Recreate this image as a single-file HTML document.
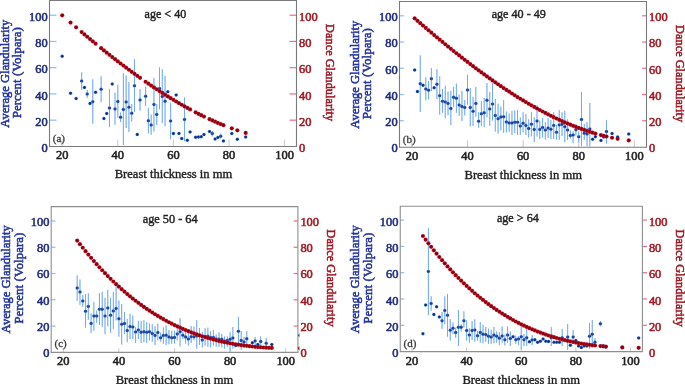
<!DOCTYPE html><html><head><meta charset="utf-8"><style>html,body{margin:0;padding:0;background:#fff;width:685px;height:384px;overflow:hidden}svg{display:block;will-change:transform}text{font-family:"Liberation Serif",serif}</style></head><body>
<svg width="685" height="384" viewBox="0 0 685 384">
<defs><radialGradient id="rg"><stop offset="0" stop-color="#6e0008"/><stop offset="0.55" stop-color="#9a000f"/><stop offset="1" stop-color="#c8142c"/></radialGradient><radialGradient id="bg"><stop offset="0" stop-color="#0a2266"/><stop offset="0.5" stop-color="#12388e"/><stop offset="1" stop-color="#3f74c8"/></radialGradient></defs>
<rect width="685" height="384" fill="#fff"/>
<line x1="62.20" y1="139.50" x2="62.20" y2="146.50" stroke="#c8c8c8" stroke-width="1"/>
<text x="62.20" y="158.90" font-size="12" fill="#222" stroke="#222" stroke-width="0.55" text-anchor="middle" textLength="12.40" lengthAdjust="spacingAndGlyphs">20</text>
<line x1="117.80" y1="139.50" x2="117.80" y2="146.50" stroke="#c8c8c8" stroke-width="1"/>
<text x="117.80" y="158.90" font-size="12" fill="#222" stroke="#222" stroke-width="0.55" text-anchor="middle" textLength="12.40" lengthAdjust="spacingAndGlyphs">40</text>
<line x1="173.40" y1="139.50" x2="173.40" y2="146.50" stroke="#c8c8c8" stroke-width="1"/>
<text x="173.40" y="158.90" font-size="12" fill="#222" stroke="#222" stroke-width="0.55" text-anchor="middle" textLength="12.40" lengthAdjust="spacingAndGlyphs">60</text>
<line x1="229.00" y1="139.50" x2="229.00" y2="146.50" stroke="#c8c8c8" stroke-width="1"/>
<text x="229.00" y="158.90" font-size="12" fill="#222" stroke="#222" stroke-width="0.55" text-anchor="middle" textLength="12.40" lengthAdjust="spacingAndGlyphs">80</text>
<line x1="284.60" y1="139.50" x2="284.60" y2="146.50" stroke="#c8c8c8" stroke-width="1"/>
<text x="284.60" y="158.90" font-size="12" fill="#222" stroke="#222" stroke-width="0.55" text-anchor="middle" textLength="18.60" lengthAdjust="spacingAndGlyphs">100</text>
<text x="47.70" y="152.00" font-size="12" fill="#1f2d78" stroke="#1f2d78" stroke-width="0.55" text-anchor="end" textLength="6.20" lengthAdjust="spacingAndGlyphs">0</text>
<text x="299.00" y="152.00" font-size="12" fill="#a01a24" stroke="#a01a24" stroke-width="0.55" textLength="6.20" lengthAdjust="spacingAndGlyphs">0</text>
<line x1="49.50" y1="120.16" x2="56.50" y2="120.16" stroke="#8cbcf0" stroke-width="1.2"/>
<text x="47.70" y="125.76" font-size="12" fill="#1f2d78" stroke="#1f2d78" stroke-width="0.55" text-anchor="end" textLength="12.40" lengthAdjust="spacingAndGlyphs">20</text>
<line x1="289.50" y1="120.16" x2="296.50" y2="120.16" stroke="#f06a8a" stroke-width="1.2"/>
<text x="299.00" y="125.76" font-size="12" fill="#a01a24" stroke="#a01a24" stroke-width="0.55" textLength="12.40" lengthAdjust="spacingAndGlyphs">20</text>
<line x1="49.50" y1="93.92" x2="56.50" y2="93.92" stroke="#8cbcf0" stroke-width="1.2"/>
<text x="47.70" y="99.52" font-size="12" fill="#1f2d78" stroke="#1f2d78" stroke-width="0.55" text-anchor="end" textLength="12.40" lengthAdjust="spacingAndGlyphs">40</text>
<line x1="289.50" y1="93.92" x2="296.50" y2="93.92" stroke="#f06a8a" stroke-width="1.2"/>
<text x="299.00" y="99.52" font-size="12" fill="#a01a24" stroke="#a01a24" stroke-width="0.55" textLength="12.40" lengthAdjust="spacingAndGlyphs">40</text>
<line x1="49.50" y1="67.68" x2="56.50" y2="67.68" stroke="#8cbcf0" stroke-width="1.2"/>
<text x="47.70" y="73.28" font-size="12" fill="#1f2d78" stroke="#1f2d78" stroke-width="0.55" text-anchor="end" textLength="12.40" lengthAdjust="spacingAndGlyphs">60</text>
<line x1="289.50" y1="67.68" x2="296.50" y2="67.68" stroke="#f06a8a" stroke-width="1.2"/>
<text x="299.00" y="73.28" font-size="12" fill="#a01a24" stroke="#a01a24" stroke-width="0.55" textLength="12.40" lengthAdjust="spacingAndGlyphs">60</text>
<line x1="49.50" y1="41.44" x2="56.50" y2="41.44" stroke="#8cbcf0" stroke-width="1.2"/>
<text x="47.70" y="47.04" font-size="12" fill="#1f2d78" stroke="#1f2d78" stroke-width="0.55" text-anchor="end" textLength="12.40" lengthAdjust="spacingAndGlyphs">80</text>
<line x1="289.50" y1="41.44" x2="296.50" y2="41.44" stroke="#f06a8a" stroke-width="1.2"/>
<text x="299.00" y="47.04" font-size="12" fill="#a01a24" stroke="#a01a24" stroke-width="0.55" textLength="12.40" lengthAdjust="spacingAndGlyphs">80</text>
<line x1="49.50" y1="15.20" x2="56.50" y2="15.20" stroke="#8cbcf0" stroke-width="1.2"/>
<text x="47.70" y="20.80" font-size="12" fill="#1f2d78" stroke="#1f2d78" stroke-width="0.55" text-anchor="end" textLength="18.60" lengthAdjust="spacingAndGlyphs">100</text>
<line x1="289.50" y1="15.20" x2="296.50" y2="15.20" stroke="#f06a8a" stroke-width="1.2"/>
<text x="299.00" y="20.80" font-size="12" fill="#a01a24" stroke="#a01a24" stroke-width="0.55" textLength="18.60" lengthAdjust="spacingAndGlyphs">100</text>
<g stroke="#70aaf4" stroke-width="1"><line x1="81.66" y1="72.40" x2="81.66" y2="90.00"/><line x1="87.22" y1="90.00" x2="87.22" y2="97.80"/><line x1="92.78" y1="79.30" x2="92.78" y2="123.70"/><line x1="101.12" y1="76.30" x2="101.12" y2="102.30"/><line x1="109.46" y1="88.90" x2="109.46" y2="127.10"/><line x1="115.02" y1="92.60" x2="115.02" y2="124.80"/><line x1="117.80" y1="84.80" x2="117.80" y2="117.60"/><line x1="120.58" y1="112.40" x2="120.58" y2="122.10"/><line x1="123.36" y1="73.00" x2="123.36" y2="145.00"/><line x1="126.14" y1="75.40" x2="126.14" y2="128.00"/><line x1="128.92" y1="82.00" x2="128.92" y2="132.00"/><line x1="131.70" y1="104.00" x2="131.70" y2="121.60"/><line x1="134.48" y1="59.10" x2="134.48" y2="112.00"/><line x1="140.04" y1="89.00" x2="140.04" y2="110.60"/><line x1="145.60" y1="86.50" x2="145.60" y2="106.00"/><line x1="148.38" y1="108.00" x2="148.38" y2="133.40"/><line x1="151.16" y1="114.50" x2="151.16" y2="134.70"/><line x1="153.94" y1="77.80" x2="153.94" y2="131.50"/><line x1="156.72" y1="104.00" x2="156.72" y2="125.00"/><line x1="159.50" y1="67.30" x2="159.50" y2="109.30"/><line x1="162.28" y1="69.20" x2="162.28" y2="123.00"/><line x1="165.06" y1="75.90" x2="165.06" y2="126.30"/><line x1="170.62" y1="102.50" x2="170.62" y2="139.30"/><line x1="184.52" y1="97.30" x2="184.52" y2="141.30"/><line x1="212.32" y1="131.00" x2="212.32" y2="136.50"/><line x1="220.66" y1="133.50" x2="220.66" y2="138.50"/></g>
<circle cx="62.20" cy="56.20" r="1.75" fill="url(#bg)"/>
<circle cx="70.54" cy="93.20" r="1.75" fill="url(#bg)"/>
<circle cx="76.10" cy="98.60" r="1.75" fill="url(#bg)"/>
<circle cx="81.66" cy="81.10" r="1.75" fill="url(#bg)"/>
<circle cx="84.44" cy="87.40" r="1.75" fill="url(#bg)"/>
<circle cx="87.22" cy="94.00" r="1.75" fill="url(#bg)"/>
<circle cx="90.00" cy="103.40" r="1.75" fill="url(#bg)"/>
<circle cx="92.78" cy="101.70" r="1.75" fill="url(#bg)"/>
<circle cx="95.56" cy="92.30" r="1.75" fill="url(#bg)"/>
<circle cx="101.12" cy="89.30" r="1.75" fill="url(#bg)"/>
<circle cx="103.90" cy="118.60" r="1.75" fill="url(#bg)"/>
<circle cx="106.68" cy="113.50" r="1.75" fill="url(#bg)"/>
<circle cx="109.46" cy="108.10" r="1.75" fill="url(#bg)"/>
<circle cx="112.24" cy="84.00" r="1.75" fill="url(#bg)"/>
<circle cx="115.02" cy="108.90" r="1.75" fill="url(#bg)"/>
<circle cx="117.80" cy="101.60" r="1.75" fill="url(#bg)"/>
<circle cx="120.58" cy="117.30" r="1.75" fill="url(#bg)"/>
<circle cx="123.36" cy="109.40" r="1.75" fill="url(#bg)"/>
<circle cx="126.14" cy="102.00" r="1.75" fill="url(#bg)"/>
<circle cx="128.92" cy="107.20" r="1.75" fill="url(#bg)"/>
<circle cx="131.70" cy="113.20" r="1.75" fill="url(#bg)"/>
<circle cx="134.48" cy="85.70" r="1.75" fill="url(#bg)"/>
<circle cx="137.26" cy="134.50" r="1.75" fill="url(#bg)"/>
<circle cx="140.04" cy="100.00" r="1.75" fill="url(#bg)"/>
<circle cx="145.60" cy="96.30" r="1.75" fill="url(#bg)"/>
<circle cx="148.38" cy="120.70" r="1.75" fill="url(#bg)"/>
<circle cx="151.16" cy="125.00" r="1.75" fill="url(#bg)"/>
<circle cx="153.94" cy="104.50" r="1.75" fill="url(#bg)"/>
<circle cx="156.72" cy="114.50" r="1.75" fill="url(#bg)"/>
<circle cx="159.50" cy="88.60" r="1.75" fill="url(#bg)"/>
<circle cx="162.28" cy="96.50" r="1.75" fill="url(#bg)"/>
<circle cx="165.06" cy="101.20" r="1.75" fill="url(#bg)"/>
<circle cx="167.84" cy="91.70" r="1.75" fill="url(#bg)"/>
<circle cx="170.62" cy="121.00" r="1.75" fill="url(#bg)"/>
<circle cx="173.40" cy="133.40" r="1.75" fill="url(#bg)"/>
<circle cx="176.18" cy="95.00" r="1.75" fill="url(#bg)"/>
<circle cx="178.96" cy="133.40" r="1.75" fill="url(#bg)"/>
<circle cx="181.74" cy="138.60" r="1.75" fill="url(#bg)"/>
<circle cx="184.52" cy="119.40" r="1.75" fill="url(#bg)"/>
<circle cx="187.30" cy="140.20" r="1.75" fill="url(#bg)"/>
<circle cx="190.08" cy="131.90" r="1.75" fill="url(#bg)"/>
<circle cx="195.64" cy="137.30" r="1.75" fill="url(#bg)"/>
<circle cx="198.42" cy="137.00" r="1.75" fill="url(#bg)"/>
<circle cx="201.20" cy="136.70" r="1.75" fill="url(#bg)"/>
<circle cx="203.98" cy="134.60" r="1.75" fill="url(#bg)"/>
<circle cx="209.54" cy="131.60" r="1.75" fill="url(#bg)"/>
<circle cx="212.32" cy="133.60" r="1.75" fill="url(#bg)"/>
<circle cx="215.10" cy="139.10" r="1.75" fill="url(#bg)"/>
<circle cx="217.88" cy="137.40" r="1.75" fill="url(#bg)"/>
<circle cx="220.66" cy="136.20" r="1.75" fill="url(#bg)"/>
<circle cx="223.44" cy="140.90" r="1.75" fill="url(#bg)"/>
<circle cx="231.78" cy="133.60" r="1.75" fill="url(#bg)"/>
<circle cx="237.34" cy="139.30" r="1.75" fill="url(#bg)"/>
<circle cx="245.68" cy="136.90" r="1.75" fill="url(#bg)"/>
<g stroke="#70aaf4" stroke-width="1" opacity="0.3"><line x1="81.66" y1="72.40" x2="81.66" y2="90.00"/><line x1="87.22" y1="90.00" x2="87.22" y2="97.80"/><line x1="92.78" y1="79.30" x2="92.78" y2="123.70"/><line x1="101.12" y1="76.30" x2="101.12" y2="102.30"/><line x1="109.46" y1="88.90" x2="109.46" y2="127.10"/><line x1="115.02" y1="92.60" x2="115.02" y2="124.80"/><line x1="117.80" y1="84.80" x2="117.80" y2="117.60"/><line x1="120.58" y1="112.40" x2="120.58" y2="122.10"/><line x1="123.36" y1="73.00" x2="123.36" y2="145.00"/><line x1="126.14" y1="75.40" x2="126.14" y2="128.00"/><line x1="128.92" y1="82.00" x2="128.92" y2="132.00"/><line x1="131.70" y1="104.00" x2="131.70" y2="121.60"/><line x1="134.48" y1="59.10" x2="134.48" y2="112.00"/><line x1="140.04" y1="89.00" x2="140.04" y2="110.60"/><line x1="145.60" y1="86.50" x2="145.60" y2="106.00"/><line x1="148.38" y1="108.00" x2="148.38" y2="133.40"/><line x1="151.16" y1="114.50" x2="151.16" y2="134.70"/><line x1="153.94" y1="77.80" x2="153.94" y2="131.50"/><line x1="156.72" y1="104.00" x2="156.72" y2="125.00"/><line x1="159.50" y1="67.30" x2="159.50" y2="109.30"/><line x1="162.28" y1="69.20" x2="162.28" y2="123.00"/><line x1="165.06" y1="75.90" x2="165.06" y2="126.30"/><line x1="170.62" y1="102.50" x2="170.62" y2="139.30"/><line x1="184.52" y1="97.30" x2="184.52" y2="141.30"/><line x1="212.32" y1="131.00" x2="212.32" y2="136.50"/><line x1="220.66" y1="133.50" x2="220.66" y2="138.50"/></g>
<circle cx="62.20" cy="15.35" r="2.1" fill="url(#rg)"/>
<circle cx="70.54" cy="22.59" r="2.1" fill="url(#rg)"/>
<circle cx="76.10" cy="27.36" r="2.1" fill="url(#rg)"/>
<circle cx="81.66" cy="32.09" r="2.1" fill="url(#rg)"/>
<circle cx="84.44" cy="34.43" r="2.1" fill="url(#rg)"/>
<circle cx="87.22" cy="36.76" r="2.1" fill="url(#rg)"/>
<circle cx="90.00" cy="39.07" r="2.1" fill="url(#rg)"/>
<circle cx="92.78" cy="41.37" r="2.1" fill="url(#rg)"/>
<circle cx="95.56" cy="43.66" r="2.1" fill="url(#rg)"/>
<circle cx="101.12" cy="48.18" r="2.1" fill="url(#rg)"/>
<circle cx="103.90" cy="50.42" r="2.1" fill="url(#rg)"/>
<circle cx="106.68" cy="52.64" r="2.1" fill="url(#rg)"/>
<circle cx="109.46" cy="54.85" r="2.1" fill="url(#rg)"/>
<circle cx="112.24" cy="57.04" r="2.1" fill="url(#rg)"/>
<circle cx="115.02" cy="59.20" r="2.1" fill="url(#rg)"/>
<circle cx="117.80" cy="61.35" r="2.1" fill="url(#rg)"/>
<circle cx="120.58" cy="63.49" r="2.1" fill="url(#rg)"/>
<circle cx="123.36" cy="65.60" r="2.1" fill="url(#rg)"/>
<circle cx="126.14" cy="67.69" r="2.1" fill="url(#rg)"/>
<circle cx="128.92" cy="69.76" r="2.1" fill="url(#rg)"/>
<circle cx="131.70" cy="71.82" r="2.1" fill="url(#rg)"/>
<circle cx="134.48" cy="73.85" r="2.1" fill="url(#rg)"/>
<circle cx="137.26" cy="75.86" r="2.1" fill="url(#rg)"/>
<circle cx="140.04" cy="77.85" r="2.1" fill="url(#rg)"/>
<circle cx="145.60" cy="81.75" r="2.1" fill="url(#rg)"/>
<circle cx="148.38" cy="83.67" r="2.1" fill="url(#rg)"/>
<circle cx="151.16" cy="85.57" r="2.1" fill="url(#rg)"/>
<circle cx="153.94" cy="87.44" r="2.1" fill="url(#rg)"/>
<circle cx="156.72" cy="89.29" r="2.1" fill="url(#rg)"/>
<circle cx="159.50" cy="91.11" r="2.1" fill="url(#rg)"/>
<circle cx="162.28" cy="92.91" r="2.1" fill="url(#rg)"/>
<circle cx="165.06" cy="94.68" r="2.1" fill="url(#rg)"/>
<circle cx="167.84" cy="96.43" r="2.1" fill="url(#rg)"/>
<circle cx="170.62" cy="98.15" r="2.1" fill="url(#rg)"/>
<circle cx="173.40" cy="99.84" r="2.1" fill="url(#rg)"/>
<circle cx="176.18" cy="101.51" r="2.1" fill="url(#rg)"/>
<circle cx="178.96" cy="103.14" r="2.1" fill="url(#rg)"/>
<circle cx="181.74" cy="104.75" r="2.1" fill="url(#rg)"/>
<circle cx="184.52" cy="106.33" r="2.1" fill="url(#rg)"/>
<circle cx="187.30" cy="107.88" r="2.1" fill="url(#rg)"/>
<circle cx="190.08" cy="109.40" r="2.1" fill="url(#rg)"/>
<circle cx="195.64" cy="112.35" r="2.1" fill="url(#rg)"/>
<circle cx="198.42" cy="113.78" r="2.1" fill="url(#rg)"/>
<circle cx="201.20" cy="115.18" r="2.1" fill="url(#rg)"/>
<circle cx="203.98" cy="116.55" r="2.1" fill="url(#rg)"/>
<circle cx="209.54" cy="119.18" r="2.1" fill="url(#rg)"/>
<circle cx="212.32" cy="120.45" r="2.1" fill="url(#rg)"/>
<circle cx="215.10" cy="121.69" r="2.1" fill="url(#rg)"/>
<circle cx="217.88" cy="122.89" r="2.1" fill="url(#rg)"/>
<circle cx="220.66" cy="124.06" r="2.1" fill="url(#rg)"/>
<circle cx="223.44" cy="125.19" r="2.1" fill="url(#rg)"/>
<circle cx="231.78" cy="128.37" r="2.1" fill="url(#rg)"/>
<circle cx="237.34" cy="130.31" r="2.1" fill="url(#rg)"/>
<circle cx="245.68" cy="132.94" r="2.1" fill="url(#rg)"/>
<path d="M49.5,0.5H296.5V146.5H49.5Z" fill="none" stroke="#7a7a7a" stroke-width="1.1"/>
<text x="52.80" y="141.90" font-size="11" fill="#3a3a3a" stroke="#3a3a3a" stroke-width="0.3">(a)</text>
<text x="165.40" y="17.50" font-size="12" fill="#222" stroke="#222" stroke-width="0.4" text-anchor="middle" textLength="41.7" lengthAdjust="spacingAndGlyphs">age &lt; 40</text>
<text x="173.50" y="178.40" font-size="13" fill="#222" stroke="#222" stroke-width="0.4" text-anchor="middle" textLength="117.5" lengthAdjust="spacingAndGlyphs">Breast thickness in mm</text>
<text transform="translate(8.70,73.70) rotate(-90)" font-size="13.5" fill="#2234a2" stroke="#2234a2" stroke-width="0.55" text-anchor="middle" textLength="108" lengthAdjust="spacingAndGlyphs">Average Glandularity</text>
<text transform="translate(21.10,72.70) rotate(-90)" font-size="13.5" fill="#2234a2" stroke="#2234a2" stroke-width="0.55" text-anchor="middle" textLength="91.3" lengthAdjust="spacingAndGlyphs">Percent (Volpara)</text>
<text transform="translate(325.80,72.60) rotate(90)" font-size="12.5" fill="#a01a24" stroke="#a01a24" stroke-width="0.55" text-anchor="middle" textLength="97" lengthAdjust="spacingAndGlyphs">Dance Glandularity</text>
<line x1="411.90" y1="140.30" x2="411.90" y2="147.30" stroke="#c8c8c8" stroke-width="1"/>
<text x="411.90" y="159.80" font-size="12" fill="#222" stroke="#222" stroke-width="0.55" text-anchor="middle" textLength="12.40" lengthAdjust="spacingAndGlyphs">20</text>
<line x1="467.50" y1="140.30" x2="467.50" y2="147.30" stroke="#c8c8c8" stroke-width="1"/>
<text x="467.50" y="159.80" font-size="12" fill="#222" stroke="#222" stroke-width="0.55" text-anchor="middle" textLength="12.40" lengthAdjust="spacingAndGlyphs">40</text>
<line x1="523.10" y1="140.30" x2="523.10" y2="147.30" stroke="#c8c8c8" stroke-width="1"/>
<text x="523.10" y="159.80" font-size="12" fill="#222" stroke="#222" stroke-width="0.55" text-anchor="middle" textLength="12.40" lengthAdjust="spacingAndGlyphs">60</text>
<line x1="578.70" y1="140.30" x2="578.70" y2="147.30" stroke="#c8c8c8" stroke-width="1"/>
<text x="578.70" y="159.80" font-size="12" fill="#222" stroke="#222" stroke-width="0.55" text-anchor="middle" textLength="12.40" lengthAdjust="spacingAndGlyphs">80</text>
<line x1="634.30" y1="140.30" x2="634.30" y2="147.30" stroke="#c8c8c8" stroke-width="1"/>
<text x="634.30" y="159.80" font-size="12" fill="#222" stroke="#222" stroke-width="0.55" text-anchor="middle" textLength="18.60" lengthAdjust="spacingAndGlyphs">100</text>
<text x="397.70" y="152.30" font-size="12" fill="#1f2d78" stroke="#1f2d78" stroke-width="0.55" text-anchor="end" textLength="6.20" lengthAdjust="spacingAndGlyphs">0</text>
<text x="649.00" y="152.30" font-size="12" fill="#a01a24" stroke="#a01a24" stroke-width="0.55" textLength="6.20" lengthAdjust="spacingAndGlyphs">0</text>
<line x1="399.50" y1="120.76" x2="403.80" y2="120.76" stroke="#8cbcf0" stroke-width="1.2"/>
<text x="397.70" y="126.06" font-size="12" fill="#1f2d78" stroke="#1f2d78" stroke-width="0.55" text-anchor="end" textLength="12.40" lengthAdjust="spacingAndGlyphs">20</text>
<line x1="642.20" y1="120.76" x2="646.50" y2="120.76" stroke="#f06a8a" stroke-width="1.2"/>
<text x="649.00" y="126.06" font-size="12" fill="#a01a24" stroke="#a01a24" stroke-width="0.55" textLength="12.40" lengthAdjust="spacingAndGlyphs">20</text>
<line x1="399.50" y1="94.52" x2="403.80" y2="94.52" stroke="#8cbcf0" stroke-width="1.2"/>
<text x="397.70" y="99.82" font-size="12" fill="#1f2d78" stroke="#1f2d78" stroke-width="0.55" text-anchor="end" textLength="12.40" lengthAdjust="spacingAndGlyphs">40</text>
<line x1="642.20" y1="94.52" x2="646.50" y2="94.52" stroke="#f06a8a" stroke-width="1.2"/>
<text x="649.00" y="99.82" font-size="12" fill="#a01a24" stroke="#a01a24" stroke-width="0.55" textLength="12.40" lengthAdjust="spacingAndGlyphs">40</text>
<line x1="399.50" y1="68.28" x2="403.80" y2="68.28" stroke="#8cbcf0" stroke-width="1.2"/>
<text x="397.70" y="73.58" font-size="12" fill="#1f2d78" stroke="#1f2d78" stroke-width="0.55" text-anchor="end" textLength="12.40" lengthAdjust="spacingAndGlyphs">60</text>
<line x1="642.20" y1="68.28" x2="646.50" y2="68.28" stroke="#f06a8a" stroke-width="1.2"/>
<text x="649.00" y="73.58" font-size="12" fill="#a01a24" stroke="#a01a24" stroke-width="0.55" textLength="12.40" lengthAdjust="spacingAndGlyphs">60</text>
<line x1="399.50" y1="42.04" x2="403.80" y2="42.04" stroke="#8cbcf0" stroke-width="1.2"/>
<text x="397.70" y="47.34" font-size="12" fill="#1f2d78" stroke="#1f2d78" stroke-width="0.55" text-anchor="end" textLength="12.40" lengthAdjust="spacingAndGlyphs">80</text>
<line x1="642.20" y1="42.04" x2="646.50" y2="42.04" stroke="#f06a8a" stroke-width="1.2"/>
<text x="649.00" y="47.34" font-size="12" fill="#a01a24" stroke="#a01a24" stroke-width="0.55" textLength="12.40" lengthAdjust="spacingAndGlyphs">80</text>
<line x1="399.50" y1="15.80" x2="403.80" y2="15.80" stroke="#8cbcf0" stroke-width="1.2"/>
<text x="397.70" y="21.10" font-size="12" fill="#1f2d78" stroke="#1f2d78" stroke-width="0.55" text-anchor="end" textLength="18.60" lengthAdjust="spacingAndGlyphs">100</text>
<line x1="642.20" y1="15.80" x2="646.50" y2="15.80" stroke="#f06a8a" stroke-width="1.2"/>
<text x="649.00" y="21.10" font-size="12" fill="#a01a24" stroke="#a01a24" stroke-width="0.55" textLength="18.60" lengthAdjust="spacingAndGlyphs">100</text>
<g stroke="#70aaf4" stroke-width="1"><line x1="420.24" y1="55.30" x2="420.24" y2="112.00"/><line x1="425.80" y1="77.30" x2="425.80" y2="100.20"/><line x1="428.58" y1="81.10" x2="428.58" y2="99.30"/><line x1="431.36" y1="68.20" x2="431.36" y2="91.00"/><line x1="436.92" y1="69.20" x2="436.92" y2="99.20"/><line x1="439.70" y1="76.20" x2="439.70" y2="114.70"/><line x1="442.48" y1="89.10" x2="442.48" y2="112.90"/><line x1="445.26" y1="85.60" x2="445.26" y2="118.30"/><line x1="448.04" y1="91.60" x2="448.04" y2="115.20"/><line x1="450.82" y1="91.00" x2="450.82" y2="125.20"/><line x1="453.60" y1="87.00" x2="453.60" y2="107.20"/><line x1="456.38" y1="83.60" x2="456.38" y2="112.90"/><line x1="459.16" y1="94.80" x2="459.16" y2="116.00"/><line x1="461.94" y1="91.00" x2="461.94" y2="121.00"/><line x1="464.72" y1="100.00" x2="464.72" y2="115.50"/><line x1="467.50" y1="74.70" x2="467.50" y2="104.80"/><line x1="470.28" y1="88.20" x2="470.28" y2="126.50"/><line x1="473.06" y1="96.80" x2="473.06" y2="126.00"/><line x1="475.84" y1="86.90" x2="475.84" y2="116.60"/><line x1="478.62" y1="112.20" x2="478.62" y2="127.80"/><line x1="481.40" y1="101.30" x2="481.40" y2="125.80"/><line x1="484.18" y1="98.00" x2="484.18" y2="127.10"/><line x1="486.96" y1="83.00" x2="486.96" y2="117.40"/><line x1="489.74" y1="91.90" x2="489.74" y2="125.80"/><line x1="492.52" y1="83.00" x2="492.52" y2="120.60"/><line x1="495.30" y1="98.90" x2="495.30" y2="131.70"/><line x1="498.08" y1="103.60" x2="498.08" y2="133.70"/><line x1="500.86" y1="106.50" x2="500.86" y2="130.40"/><line x1="503.64" y1="100.20" x2="503.64" y2="133.00"/><line x1="506.42" y1="111.50" x2="506.42" y2="132.40"/><line x1="509.20" y1="113.50" x2="509.20" y2="131.70"/><line x1="511.98" y1="110.90" x2="511.98" y2="135.00"/><line x1="514.76" y1="110.20" x2="514.76" y2="133.00"/><line x1="517.54" y1="110.20" x2="517.54" y2="135.00"/><line x1="520.32" y1="117.40" x2="520.32" y2="135.00"/><line x1="523.10" y1="112.20" x2="523.10" y2="132.40"/><line x1="525.88" y1="114.10" x2="525.88" y2="135.00"/><line x1="528.66" y1="119.30" x2="528.66" y2="137.60"/><line x1="531.44" y1="112.20" x2="531.44" y2="136.20"/><line x1="534.22" y1="117.40" x2="534.22" y2="142.00"/><line x1="537.00" y1="105.20" x2="537.00" y2="136.60"/><line x1="539.78" y1="120.60" x2="539.78" y2="139.00"/><line x1="542.56" y1="118.00" x2="542.56" y2="137.70"/><line x1="545.34" y1="122.00" x2="545.34" y2="139.70"/><line x1="548.12" y1="118.00" x2="548.12" y2="138.00"/><line x1="550.90" y1="120.00" x2="550.90" y2="139.00"/><line x1="553.68" y1="112.20" x2="553.68" y2="139.00"/><line x1="556.46" y1="125.20" x2="556.46" y2="139.60"/><line x1="559.24" y1="110.20" x2="559.24" y2="140.00"/><line x1="562.02" y1="112.20" x2="562.02" y2="136.00"/><line x1="564.80" y1="110.80" x2="564.80" y2="142.30"/><line x1="567.58" y1="119.30" x2="567.58" y2="140.00"/><line x1="570.36" y1="130.40" x2="570.36" y2="138.50"/><line x1="573.14" y1="131.40" x2="573.14" y2="143.30"/><line x1="575.92" y1="123.90" x2="575.92" y2="135.50"/><line x1="578.70" y1="131.50" x2="578.70" y2="142.30"/><line x1="581.48" y1="92.00" x2="581.48" y2="146.00"/><line x1="584.26" y1="123.90" x2="584.26" y2="140.00"/><line x1="587.04" y1="122.00" x2="587.04" y2="146.00"/><line x1="589.82" y1="103.00" x2="589.82" y2="146.50"/><line x1="606.50" y1="120.20" x2="606.50" y2="143.60"/></g>
<circle cx="414.68" cy="70.10" r="1.75" fill="url(#bg)"/>
<circle cx="417.46" cy="91.60" r="1.75" fill="url(#bg)"/>
<circle cx="420.24" cy="83.65" r="1.75" fill="url(#bg)"/>
<circle cx="423.02" cy="85.30" r="1.75" fill="url(#bg)"/>
<circle cx="425.80" cy="88.90" r="1.75" fill="url(#bg)"/>
<circle cx="428.58" cy="90.20" r="1.75" fill="url(#bg)"/>
<circle cx="431.36" cy="78.85" r="1.75" fill="url(#bg)"/>
<circle cx="434.14" cy="87.75" r="1.75" fill="url(#bg)"/>
<circle cx="436.92" cy="84.20" r="1.75" fill="url(#bg)"/>
<circle cx="439.70" cy="95.65" r="1.75" fill="url(#bg)"/>
<circle cx="442.48" cy="101.20" r="1.75" fill="url(#bg)"/>
<circle cx="445.26" cy="102.00" r="1.75" fill="url(#bg)"/>
<circle cx="448.04" cy="103.40" r="1.75" fill="url(#bg)"/>
<circle cx="450.82" cy="108.40" r="1.75" fill="url(#bg)"/>
<circle cx="453.60" cy="97.35" r="1.75" fill="url(#bg)"/>
<circle cx="456.38" cy="98.30" r="1.75" fill="url(#bg)"/>
<circle cx="459.16" cy="105.00" r="1.75" fill="url(#bg)"/>
<circle cx="461.94" cy="106.40" r="1.75" fill="url(#bg)"/>
<circle cx="464.72" cy="107.50" r="1.75" fill="url(#bg)"/>
<circle cx="467.50" cy="90.10" r="1.75" fill="url(#bg)"/>
<circle cx="470.28" cy="107.50" r="1.75" fill="url(#bg)"/>
<circle cx="473.06" cy="111.35" r="1.75" fill="url(#bg)"/>
<circle cx="475.84" cy="103.45" r="1.75" fill="url(#bg)"/>
<circle cx="478.62" cy="121.20" r="1.75" fill="url(#bg)"/>
<circle cx="481.40" cy="113.80" r="1.75" fill="url(#bg)"/>
<circle cx="484.18" cy="112.80" r="1.75" fill="url(#bg)"/>
<circle cx="486.96" cy="100.35" r="1.75" fill="url(#bg)"/>
<circle cx="489.74" cy="109.00" r="1.75" fill="url(#bg)"/>
<circle cx="492.52" cy="104.10" r="1.75" fill="url(#bg)"/>
<circle cx="495.30" cy="115.50" r="1.75" fill="url(#bg)"/>
<circle cx="498.08" cy="118.80" r="1.75" fill="url(#bg)"/>
<circle cx="500.86" cy="117.00" r="1.75" fill="url(#bg)"/>
<circle cx="503.64" cy="116.80" r="1.75" fill="url(#bg)"/>
<circle cx="506.42" cy="121.90" r="1.75" fill="url(#bg)"/>
<circle cx="509.20" cy="122.90" r="1.75" fill="url(#bg)"/>
<circle cx="511.98" cy="122.90" r="1.75" fill="url(#bg)"/>
<circle cx="514.76" cy="122.20" r="1.75" fill="url(#bg)"/>
<circle cx="517.54" cy="122.20" r="1.75" fill="url(#bg)"/>
<circle cx="520.32" cy="126.10" r="1.75" fill="url(#bg)"/>
<circle cx="523.10" cy="123.20" r="1.75" fill="url(#bg)"/>
<circle cx="525.88" cy="125.60" r="1.75" fill="url(#bg)"/>
<circle cx="528.66" cy="128.50" r="1.75" fill="url(#bg)"/>
<circle cx="531.44" cy="124.20" r="1.75" fill="url(#bg)"/>
<circle cx="534.22" cy="129.40" r="1.75" fill="url(#bg)"/>
<circle cx="537.00" cy="121.10" r="1.75" fill="url(#bg)"/>
<circle cx="539.78" cy="129.40" r="1.75" fill="url(#bg)"/>
<circle cx="542.56" cy="127.50" r="1.75" fill="url(#bg)"/>
<circle cx="545.34" cy="130.05" r="1.75" fill="url(#bg)"/>
<circle cx="548.12" cy="128.00" r="1.75" fill="url(#bg)"/>
<circle cx="550.90" cy="129.30" r="1.75" fill="url(#bg)"/>
<circle cx="553.68" cy="125.40" r="1.75" fill="url(#bg)"/>
<circle cx="556.46" cy="132.20" r="1.75" fill="url(#bg)"/>
<circle cx="559.24" cy="125.05" r="1.75" fill="url(#bg)"/>
<circle cx="562.02" cy="124.35" r="1.75" fill="url(#bg)"/>
<circle cx="564.80" cy="126.80" r="1.75" fill="url(#bg)"/>
<circle cx="567.58" cy="130.00" r="1.75" fill="url(#bg)"/>
<circle cx="570.36" cy="135.40" r="1.75" fill="url(#bg)"/>
<circle cx="573.14" cy="135.00" r="1.75" fill="url(#bg)"/>
<circle cx="575.92" cy="129.80" r="1.75" fill="url(#bg)"/>
<circle cx="578.70" cy="136.80" r="1.75" fill="url(#bg)"/>
<circle cx="581.48" cy="119.45" r="1.75" fill="url(#bg)"/>
<circle cx="584.26" cy="133.30" r="1.75" fill="url(#bg)"/>
<circle cx="587.04" cy="134.00" r="1.75" fill="url(#bg)"/>
<circle cx="589.82" cy="128.90" r="1.75" fill="url(#bg)"/>
<circle cx="592.60" cy="139.20" r="1.75" fill="url(#bg)"/>
<circle cx="595.38" cy="136.70" r="1.75" fill="url(#bg)"/>
<circle cx="600.94" cy="140.40" r="1.75" fill="url(#bg)"/>
<circle cx="603.72" cy="137.00" r="1.75" fill="url(#bg)"/>
<circle cx="606.50" cy="131.60" r="1.75" fill="url(#bg)"/>
<circle cx="612.06" cy="133.60" r="1.75" fill="url(#bg)"/>
<circle cx="617.62" cy="137.00" r="1.75" fill="url(#bg)"/>
<circle cx="628.74" cy="134.10" r="1.75" fill="url(#bg)"/>
<g stroke="#70aaf4" stroke-width="1" opacity="0.3"><line x1="420.24" y1="55.30" x2="420.24" y2="112.00"/><line x1="425.80" y1="77.30" x2="425.80" y2="100.20"/><line x1="428.58" y1="81.10" x2="428.58" y2="99.30"/><line x1="431.36" y1="68.20" x2="431.36" y2="91.00"/><line x1="436.92" y1="69.20" x2="436.92" y2="99.20"/><line x1="439.70" y1="76.20" x2="439.70" y2="114.70"/><line x1="442.48" y1="89.10" x2="442.48" y2="112.90"/><line x1="445.26" y1="85.60" x2="445.26" y2="118.30"/><line x1="448.04" y1="91.60" x2="448.04" y2="115.20"/><line x1="450.82" y1="91.00" x2="450.82" y2="125.20"/><line x1="453.60" y1="87.00" x2="453.60" y2="107.20"/><line x1="456.38" y1="83.60" x2="456.38" y2="112.90"/><line x1="459.16" y1="94.80" x2="459.16" y2="116.00"/><line x1="461.94" y1="91.00" x2="461.94" y2="121.00"/><line x1="464.72" y1="100.00" x2="464.72" y2="115.50"/><line x1="467.50" y1="74.70" x2="467.50" y2="104.80"/><line x1="470.28" y1="88.20" x2="470.28" y2="126.50"/><line x1="473.06" y1="96.80" x2="473.06" y2="126.00"/><line x1="475.84" y1="86.90" x2="475.84" y2="116.60"/><line x1="478.62" y1="112.20" x2="478.62" y2="127.80"/><line x1="481.40" y1="101.30" x2="481.40" y2="125.80"/><line x1="484.18" y1="98.00" x2="484.18" y2="127.10"/><line x1="486.96" y1="83.00" x2="486.96" y2="117.40"/><line x1="489.74" y1="91.90" x2="489.74" y2="125.80"/><line x1="492.52" y1="83.00" x2="492.52" y2="120.60"/><line x1="495.30" y1="98.90" x2="495.30" y2="131.70"/><line x1="498.08" y1="103.60" x2="498.08" y2="133.70"/><line x1="500.86" y1="106.50" x2="500.86" y2="130.40"/><line x1="503.64" y1="100.20" x2="503.64" y2="133.00"/><line x1="506.42" y1="111.50" x2="506.42" y2="132.40"/><line x1="509.20" y1="113.50" x2="509.20" y2="131.70"/><line x1="511.98" y1="110.90" x2="511.98" y2="135.00"/><line x1="514.76" y1="110.20" x2="514.76" y2="133.00"/><line x1="517.54" y1="110.20" x2="517.54" y2="135.00"/><line x1="520.32" y1="117.40" x2="520.32" y2="135.00"/><line x1="523.10" y1="112.20" x2="523.10" y2="132.40"/><line x1="525.88" y1="114.10" x2="525.88" y2="135.00"/><line x1="528.66" y1="119.30" x2="528.66" y2="137.60"/><line x1="531.44" y1="112.20" x2="531.44" y2="136.20"/><line x1="534.22" y1="117.40" x2="534.22" y2="142.00"/><line x1="537.00" y1="105.20" x2="537.00" y2="136.60"/><line x1="539.78" y1="120.60" x2="539.78" y2="139.00"/><line x1="542.56" y1="118.00" x2="542.56" y2="137.70"/><line x1="545.34" y1="122.00" x2="545.34" y2="139.70"/><line x1="548.12" y1="118.00" x2="548.12" y2="138.00"/><line x1="550.90" y1="120.00" x2="550.90" y2="139.00"/><line x1="553.68" y1="112.20" x2="553.68" y2="139.00"/><line x1="556.46" y1="125.20" x2="556.46" y2="139.60"/><line x1="559.24" y1="110.20" x2="559.24" y2="140.00"/><line x1="562.02" y1="112.20" x2="562.02" y2="136.00"/><line x1="564.80" y1="110.80" x2="564.80" y2="142.30"/><line x1="567.58" y1="119.30" x2="567.58" y2="140.00"/><line x1="570.36" y1="130.40" x2="570.36" y2="138.50"/><line x1="573.14" y1="131.40" x2="573.14" y2="143.30"/><line x1="575.92" y1="123.90" x2="575.92" y2="135.50"/><line x1="578.70" y1="131.50" x2="578.70" y2="142.30"/><line x1="581.48" y1="92.00" x2="581.48" y2="146.00"/><line x1="584.26" y1="123.90" x2="584.26" y2="140.00"/><line x1="587.04" y1="122.00" x2="587.04" y2="146.00"/><line x1="589.82" y1="103.00" x2="589.82" y2="146.50"/><line x1="606.50" y1="120.20" x2="606.50" y2="143.60"/></g>
<circle cx="414.68" cy="18.37" r="2.1" fill="url(#rg)"/>
<circle cx="417.46" cy="20.79" r="2.1" fill="url(#rg)"/>
<circle cx="420.24" cy="23.19" r="2.1" fill="url(#rg)"/>
<circle cx="423.02" cy="25.58" r="2.1" fill="url(#rg)"/>
<circle cx="425.80" cy="27.96" r="2.1" fill="url(#rg)"/>
<circle cx="428.58" cy="30.33" r="2.1" fill="url(#rg)"/>
<circle cx="431.36" cy="32.69" r="2.1" fill="url(#rg)"/>
<circle cx="434.14" cy="35.03" r="2.1" fill="url(#rg)"/>
<circle cx="436.92" cy="37.36" r="2.1" fill="url(#rg)"/>
<circle cx="439.70" cy="39.67" r="2.1" fill="url(#rg)"/>
<circle cx="442.48" cy="41.97" r="2.1" fill="url(#rg)"/>
<circle cx="445.26" cy="44.26" r="2.1" fill="url(#rg)"/>
<circle cx="448.04" cy="46.53" r="2.1" fill="url(#rg)"/>
<circle cx="450.82" cy="48.78" r="2.1" fill="url(#rg)"/>
<circle cx="453.60" cy="51.02" r="2.1" fill="url(#rg)"/>
<circle cx="456.38" cy="53.24" r="2.1" fill="url(#rg)"/>
<circle cx="459.16" cy="55.45" r="2.1" fill="url(#rg)"/>
<circle cx="461.94" cy="57.64" r="2.1" fill="url(#rg)"/>
<circle cx="464.72" cy="59.80" r="2.1" fill="url(#rg)"/>
<circle cx="467.50" cy="61.95" r="2.1" fill="url(#rg)"/>
<circle cx="470.28" cy="64.09" r="2.1" fill="url(#rg)"/>
<circle cx="473.06" cy="66.20" r="2.1" fill="url(#rg)"/>
<circle cx="475.84" cy="68.29" r="2.1" fill="url(#rg)"/>
<circle cx="478.62" cy="70.36" r="2.1" fill="url(#rg)"/>
<circle cx="481.40" cy="72.42" r="2.1" fill="url(#rg)"/>
<circle cx="484.18" cy="74.45" r="2.1" fill="url(#rg)"/>
<circle cx="486.96" cy="76.46" r="2.1" fill="url(#rg)"/>
<circle cx="489.74" cy="78.45" r="2.1" fill="url(#rg)"/>
<circle cx="492.52" cy="80.41" r="2.1" fill="url(#rg)"/>
<circle cx="495.30" cy="82.35" r="2.1" fill="url(#rg)"/>
<circle cx="498.08" cy="84.27" r="2.1" fill="url(#rg)"/>
<circle cx="500.86" cy="86.17" r="2.1" fill="url(#rg)"/>
<circle cx="503.64" cy="88.04" r="2.1" fill="url(#rg)"/>
<circle cx="506.42" cy="89.89" r="2.1" fill="url(#rg)"/>
<circle cx="509.20" cy="91.71" r="2.1" fill="url(#rg)"/>
<circle cx="511.98" cy="93.51" r="2.1" fill="url(#rg)"/>
<circle cx="514.76" cy="95.28" r="2.1" fill="url(#rg)"/>
<circle cx="517.54" cy="97.03" r="2.1" fill="url(#rg)"/>
<circle cx="520.32" cy="98.75" r="2.1" fill="url(#rg)"/>
<circle cx="523.10" cy="100.44" r="2.1" fill="url(#rg)"/>
<circle cx="525.88" cy="102.11" r="2.1" fill="url(#rg)"/>
<circle cx="528.66" cy="103.74" r="2.1" fill="url(#rg)"/>
<circle cx="531.44" cy="105.35" r="2.1" fill="url(#rg)"/>
<circle cx="534.22" cy="106.93" r="2.1" fill="url(#rg)"/>
<circle cx="537.00" cy="108.48" r="2.1" fill="url(#rg)"/>
<circle cx="539.78" cy="110.00" r="2.1" fill="url(#rg)"/>
<circle cx="542.56" cy="111.49" r="2.1" fill="url(#rg)"/>
<circle cx="545.34" cy="112.95" r="2.1" fill="url(#rg)"/>
<circle cx="548.12" cy="114.38" r="2.1" fill="url(#rg)"/>
<circle cx="550.90" cy="115.78" r="2.1" fill="url(#rg)"/>
<circle cx="553.68" cy="117.15" r="2.1" fill="url(#rg)"/>
<circle cx="556.46" cy="118.48" r="2.1" fill="url(#rg)"/>
<circle cx="559.24" cy="119.78" r="2.1" fill="url(#rg)"/>
<circle cx="562.02" cy="121.05" r="2.1" fill="url(#rg)"/>
<circle cx="564.80" cy="122.29" r="2.1" fill="url(#rg)"/>
<circle cx="567.58" cy="123.49" r="2.1" fill="url(#rg)"/>
<circle cx="570.36" cy="124.66" r="2.1" fill="url(#rg)"/>
<circle cx="573.14" cy="125.79" r="2.1" fill="url(#rg)"/>
<circle cx="575.92" cy="126.88" r="2.1" fill="url(#rg)"/>
<circle cx="578.70" cy="127.95" r="2.1" fill="url(#rg)"/>
<circle cx="581.48" cy="128.97" r="2.1" fill="url(#rg)"/>
<circle cx="584.26" cy="129.96" r="2.1" fill="url(#rg)"/>
<circle cx="587.04" cy="130.91" r="2.1" fill="url(#rg)"/>
<circle cx="589.82" cy="131.82" r="2.1" fill="url(#rg)"/>
<circle cx="592.60" cy="132.70" r="2.1" fill="url(#rg)"/>
<circle cx="595.38" cy="133.54" r="2.1" fill="url(#rg)"/>
<circle cx="600.94" cy="135.10" r="2.1" fill="url(#rg)"/>
<circle cx="603.72" cy="135.82" r="2.1" fill="url(#rg)"/>
<circle cx="606.50" cy="136.50" r="2.1" fill="url(#rg)"/>
<circle cx="612.06" cy="137.74" r="2.1" fill="url(#rg)"/>
<circle cx="617.62" cy="138.81" r="2.1" fill="url(#rg)"/>
<circle cx="628.74" cy="140.45" r="2.1" fill="url(#rg)"/>
<path d="M399.5,1.5H646.5V147.3H399.5Z" fill="none" stroke="#7a7a7a" stroke-width="1.1"/>
<text x="402.80" y="142.70" font-size="11" fill="#3a3a3a" stroke="#3a3a3a" stroke-width="0.3">(b)</text>
<text x="518.80" y="18.10" font-size="12" fill="#222" stroke="#222" stroke-width="0.4" text-anchor="middle" textLength="54.3" lengthAdjust="spacingAndGlyphs">age 40 - 49</text>
<text x="523.30" y="179.10" font-size="13" fill="#222" stroke="#222" stroke-width="0.4" text-anchor="middle" textLength="117.5" lengthAdjust="spacingAndGlyphs">Breast thickness in mm</text>
<text transform="translate(358.70,74.70) rotate(-90)" font-size="13.5" fill="#2234a2" stroke="#2234a2" stroke-width="0.55" text-anchor="middle" textLength="108" lengthAdjust="spacingAndGlyphs">Average Glandularity</text>
<text transform="translate(371.10,73.70) rotate(-90)" font-size="13.5" fill="#2234a2" stroke="#2234a2" stroke-width="0.55" text-anchor="middle" textLength="91.3" lengthAdjust="spacingAndGlyphs">Percent (Volpara)</text>
<text transform="translate(675.80,73.60) rotate(90)" font-size="12.5" fill="#a01a24" stroke="#a01a24" stroke-width="0.55" text-anchor="middle" textLength="97" lengthAdjust="spacingAndGlyphs">Dance Glandularity</text>
<line x1="63.30" y1="348.40" x2="63.30" y2="352.40" stroke="#c8c8c8" stroke-width="1"/>
<text x="63.30" y="365.40" font-size="12" fill="#222" stroke="#222" stroke-width="0.55" text-anchor="middle" textLength="12.40" lengthAdjust="spacingAndGlyphs">20</text>
<line x1="118.90" y1="348.40" x2="118.90" y2="352.40" stroke="#c8c8c8" stroke-width="1"/>
<text x="118.90" y="365.40" font-size="12" fill="#222" stroke="#222" stroke-width="0.55" text-anchor="middle" textLength="12.40" lengthAdjust="spacingAndGlyphs">40</text>
<line x1="174.50" y1="348.40" x2="174.50" y2="352.40" stroke="#c8c8c8" stroke-width="1"/>
<text x="174.50" y="365.40" font-size="12" fill="#222" stroke="#222" stroke-width="0.55" text-anchor="middle" textLength="12.40" lengthAdjust="spacingAndGlyphs">60</text>
<line x1="230.10" y1="348.40" x2="230.10" y2="352.40" stroke="#c8c8c8" stroke-width="1"/>
<text x="230.10" y="365.40" font-size="12" fill="#222" stroke="#222" stroke-width="0.55" text-anchor="middle" textLength="12.40" lengthAdjust="spacingAndGlyphs">80</text>
<line x1="285.70" y1="348.40" x2="285.70" y2="352.40" stroke="#c8c8c8" stroke-width="1"/>
<text x="285.70" y="365.40" font-size="12" fill="#222" stroke="#222" stroke-width="0.55" text-anchor="middle" textLength="18.60" lengthAdjust="spacingAndGlyphs">100</text>
<text x="49.40" y="357.10" font-size="12" fill="#1f2d78" stroke="#1f2d78" stroke-width="0.55" text-anchor="end" textLength="6.20" lengthAdjust="spacingAndGlyphs">0</text>
<text x="300.40" y="357.10" font-size="12" fill="#a01a24" stroke="#a01a24" stroke-width="0.55" textLength="6.20" lengthAdjust="spacingAndGlyphs">0</text>
<line x1="51.20" y1="326.04" x2="55.50" y2="326.04" stroke="#8cbcf0" stroke-width="1.2"/>
<text x="49.40" y="330.84" font-size="12" fill="#1f2d78" stroke="#1f2d78" stroke-width="0.55" text-anchor="end" textLength="12.40" lengthAdjust="spacingAndGlyphs">20</text>
<line x1="293.60" y1="326.04" x2="297.90" y2="326.04" stroke="#f06a8a" stroke-width="1.2"/>
<text x="300.40" y="330.84" font-size="12" fill="#a01a24" stroke="#a01a24" stroke-width="0.55" textLength="12.40" lengthAdjust="spacingAndGlyphs">20</text>
<line x1="51.20" y1="299.78" x2="55.50" y2="299.78" stroke="#8cbcf0" stroke-width="1.2"/>
<text x="49.40" y="304.58" font-size="12" fill="#1f2d78" stroke="#1f2d78" stroke-width="0.55" text-anchor="end" textLength="12.40" lengthAdjust="spacingAndGlyphs">40</text>
<line x1="293.60" y1="299.78" x2="297.90" y2="299.78" stroke="#f06a8a" stroke-width="1.2"/>
<text x="300.40" y="304.58" font-size="12" fill="#a01a24" stroke="#a01a24" stroke-width="0.55" textLength="12.40" lengthAdjust="spacingAndGlyphs">40</text>
<line x1="51.20" y1="273.52" x2="55.50" y2="273.52" stroke="#8cbcf0" stroke-width="1.2"/>
<text x="49.40" y="278.32" font-size="12" fill="#1f2d78" stroke="#1f2d78" stroke-width="0.55" text-anchor="end" textLength="12.40" lengthAdjust="spacingAndGlyphs">60</text>
<line x1="293.60" y1="273.52" x2="297.90" y2="273.52" stroke="#f06a8a" stroke-width="1.2"/>
<text x="300.40" y="278.32" font-size="12" fill="#a01a24" stroke="#a01a24" stroke-width="0.55" textLength="12.40" lengthAdjust="spacingAndGlyphs">60</text>
<line x1="51.20" y1="247.26" x2="55.50" y2="247.26" stroke="#8cbcf0" stroke-width="1.2"/>
<text x="49.40" y="252.06" font-size="12" fill="#1f2d78" stroke="#1f2d78" stroke-width="0.55" text-anchor="end" textLength="12.40" lengthAdjust="spacingAndGlyphs">80</text>
<line x1="293.60" y1="247.26" x2="297.90" y2="247.26" stroke="#f06a8a" stroke-width="1.2"/>
<text x="300.40" y="252.06" font-size="12" fill="#a01a24" stroke="#a01a24" stroke-width="0.55" textLength="12.40" lengthAdjust="spacingAndGlyphs">80</text>
<line x1="51.20" y1="221.00" x2="55.50" y2="221.00" stroke="#8cbcf0" stroke-width="1.2"/>
<text x="49.40" y="225.80" font-size="12" fill="#1f2d78" stroke="#1f2d78" stroke-width="0.55" text-anchor="end" textLength="18.60" lengthAdjust="spacingAndGlyphs">100</text>
<line x1="293.60" y1="221.00" x2="297.90" y2="221.00" stroke="#f06a8a" stroke-width="1.2"/>
<text x="300.40" y="225.80" font-size="12" fill="#a01a24" stroke="#a01a24" stroke-width="0.55" textLength="18.60" lengthAdjust="spacingAndGlyphs">100</text>
<g stroke="#70aaf4" stroke-width="1"><line x1="77.20" y1="275.40" x2="77.20" y2="300.90"/><line x1="79.98" y1="279.50" x2="79.98" y2="304.80"/><line x1="82.76" y1="295.00" x2="82.76" y2="306.70"/><line x1="85.54" y1="294.10" x2="85.54" y2="327.60"/><line x1="88.32" y1="293.20" x2="88.32" y2="319.80"/><line x1="91.10" y1="313.20" x2="91.10" y2="332.80"/><line x1="93.88" y1="302.20" x2="93.88" y2="330.80"/><line x1="96.66" y1="310.60" x2="96.66" y2="323.00"/><line x1="99.44" y1="293.20" x2="99.44" y2="325.00"/><line x1="102.22" y1="291.80" x2="102.22" y2="326.90"/><line x1="105.00" y1="297.90" x2="105.00" y2="334.10"/><line x1="107.78" y1="290.00" x2="107.78" y2="326.30"/><line x1="110.56" y1="298.10" x2="110.56" y2="332.80"/><line x1="113.34" y1="291.80" x2="113.34" y2="328.90"/><line x1="116.12" y1="286.20" x2="116.12" y2="320.40"/><line x1="118.90" y1="300.40" x2="118.90" y2="336.70"/><line x1="121.68" y1="304.00" x2="121.68" y2="344.50"/><line x1="124.46" y1="311.90" x2="124.46" y2="334.10"/><line x1="127.24" y1="318.90" x2="127.24" y2="342.30"/><line x1="130.02" y1="313.80" x2="130.02" y2="339.10"/><line x1="132.80" y1="315.60" x2="132.80" y2="339.00"/><line x1="135.58" y1="327.40" x2="135.58" y2="343.00"/><line x1="138.36" y1="320.80" x2="138.36" y2="339.00"/><line x1="141.14" y1="320.80" x2="141.14" y2="343.00"/><line x1="143.92" y1="320.20" x2="143.92" y2="342.30"/><line x1="146.70" y1="322.10" x2="146.70" y2="343.00"/><line x1="149.48" y1="323.50" x2="149.48" y2="340.40"/><line x1="152.26" y1="324.10" x2="152.26" y2="341.70"/><line x1="155.04" y1="326.10" x2="155.04" y2="345.00"/><line x1="157.82" y1="323.50" x2="157.82" y2="340.40"/><line x1="160.60" y1="332.60" x2="160.60" y2="341.70"/><line x1="163.38" y1="327.40" x2="163.38" y2="343.60"/><line x1="166.16" y1="325.40" x2="166.16" y2="345.00"/><line x1="168.94" y1="330.00" x2="168.94" y2="344.30"/><line x1="171.72" y1="330.60" x2="171.72" y2="343.60"/><line x1="174.50" y1="330.60" x2="174.50" y2="343.60"/><line x1="177.28" y1="328.00" x2="177.28" y2="340.40"/><line x1="180.06" y1="318.20" x2="180.06" y2="346.30"/><line x1="182.84" y1="331.30" x2="182.84" y2="339.10"/><line x1="185.62" y1="328.00" x2="185.62" y2="343.60"/><line x1="188.40" y1="332.60" x2="188.40" y2="345.60"/><line x1="191.18" y1="326.10" x2="191.18" y2="343.00"/><line x1="193.96" y1="326.70" x2="193.96" y2="340.40"/><line x1="196.74" y1="320.20" x2="196.74" y2="348.60"/><line x1="199.52" y1="328.00" x2="199.52" y2="345.00"/><line x1="202.30" y1="331.70" x2="202.30" y2="347.50"/><line x1="205.08" y1="328.20" x2="205.08" y2="345.70"/><line x1="207.86" y1="327.60" x2="207.86" y2="346.90"/><line x1="210.64" y1="331.10" x2="210.64" y2="347.40"/><line x1="213.42" y1="329.90" x2="213.42" y2="345.70"/><line x1="216.20" y1="334.60" x2="216.20" y2="346.90"/><line x1="218.98" y1="332.30" x2="218.98" y2="346.90"/><line x1="221.76" y1="334.00" x2="221.76" y2="347.40"/><line x1="224.54" y1="336.40" x2="224.54" y2="348.60"/><line x1="227.32" y1="336.40" x2="227.32" y2="346.90"/><line x1="230.10" y1="332.30" x2="230.10" y2="351.50"/><line x1="232.88" y1="327.00" x2="232.88" y2="348.60"/><line x1="238.44" y1="316.90" x2="238.44" y2="344.00"/><line x1="241.22" y1="331.10" x2="241.22" y2="349.80"/><line x1="244.00" y1="337.00" x2="244.00" y2="348.00"/><line x1="246.78" y1="331.10" x2="246.78" y2="345.70"/><line x1="255.12" y1="336.90" x2="255.12" y2="345.10"/><line x1="260.68" y1="336.40" x2="260.68" y2="345.70"/><line x1="266.24" y1="338.10" x2="266.24" y2="346.00"/></g>
<circle cx="77.20" cy="288.00" r="1.75" fill="url(#bg)"/>
<circle cx="79.98" cy="291.90" r="1.75" fill="url(#bg)"/>
<circle cx="82.76" cy="300.90" r="1.75" fill="url(#bg)"/>
<circle cx="85.54" cy="311.30" r="1.75" fill="url(#bg)"/>
<circle cx="88.32" cy="306.45" r="1.75" fill="url(#bg)"/>
<circle cx="91.10" cy="323.40" r="1.75" fill="url(#bg)"/>
<circle cx="93.88" cy="316.10" r="1.75" fill="url(#bg)"/>
<circle cx="96.66" cy="316.10" r="1.75" fill="url(#bg)"/>
<circle cx="99.44" cy="309.15" r="1.75" fill="url(#bg)"/>
<circle cx="102.22" cy="309.30" r="1.75" fill="url(#bg)"/>
<circle cx="105.00" cy="316.10" r="1.75" fill="url(#bg)"/>
<circle cx="107.78" cy="308.00" r="1.75" fill="url(#bg)"/>
<circle cx="110.56" cy="315.20" r="1.75" fill="url(#bg)"/>
<circle cx="113.34" cy="310.90" r="1.75" fill="url(#bg)"/>
<circle cx="116.12" cy="308.40" r="1.75" fill="url(#bg)"/>
<circle cx="118.90" cy="318.70" r="1.75" fill="url(#bg)"/>
<circle cx="121.68" cy="324.30" r="1.75" fill="url(#bg)"/>
<circle cx="124.46" cy="323.60" r="1.75" fill="url(#bg)"/>
<circle cx="127.24" cy="330.60" r="1.75" fill="url(#bg)"/>
<circle cx="130.02" cy="326.60" r="1.75" fill="url(#bg)"/>
<circle cx="132.80" cy="327.00" r="1.75" fill="url(#bg)"/>
<circle cx="135.58" cy="331.90" r="1.75" fill="url(#bg)"/>
<circle cx="138.36" cy="330.00" r="1.75" fill="url(#bg)"/>
<circle cx="141.14" cy="332.30" r="1.75" fill="url(#bg)"/>
<circle cx="143.92" cy="331.70" r="1.75" fill="url(#bg)"/>
<circle cx="146.70" cy="332.30" r="1.75" fill="url(#bg)"/>
<circle cx="149.48" cy="331.70" r="1.75" fill="url(#bg)"/>
<circle cx="152.26" cy="333.60" r="1.75" fill="url(#bg)"/>
<circle cx="155.04" cy="335.40" r="1.75" fill="url(#bg)"/>
<circle cx="157.82" cy="332.60" r="1.75" fill="url(#bg)"/>
<circle cx="160.60" cy="337.80" r="1.75" fill="url(#bg)"/>
<circle cx="163.38" cy="335.40" r="1.75" fill="url(#bg)"/>
<circle cx="166.16" cy="335.20" r="1.75" fill="url(#bg)"/>
<circle cx="168.94" cy="336.90" r="1.75" fill="url(#bg)"/>
<circle cx="171.72" cy="337.80" r="1.75" fill="url(#bg)"/>
<circle cx="174.50" cy="337.40" r="1.75" fill="url(#bg)"/>
<circle cx="177.28" cy="334.10" r="1.75" fill="url(#bg)"/>
<circle cx="180.06" cy="331.70" r="1.75" fill="url(#bg)"/>
<circle cx="182.84" cy="335.20" r="1.75" fill="url(#bg)"/>
<circle cx="185.62" cy="336.90" r="1.75" fill="url(#bg)"/>
<circle cx="188.40" cy="339.10" r="1.75" fill="url(#bg)"/>
<circle cx="191.18" cy="336.70" r="1.75" fill="url(#bg)"/>
<circle cx="193.96" cy="336.70" r="1.75" fill="url(#bg)"/>
<circle cx="196.74" cy="336.00" r="1.75" fill="url(#bg)"/>
<circle cx="199.52" cy="335.50" r="1.75" fill="url(#bg)"/>
<circle cx="202.30" cy="340.00" r="1.75" fill="url(#bg)"/>
<circle cx="205.08" cy="336.50" r="1.75" fill="url(#bg)"/>
<circle cx="207.86" cy="336.30" r="1.75" fill="url(#bg)"/>
<circle cx="210.64" cy="337.50" r="1.75" fill="url(#bg)"/>
<circle cx="213.42" cy="337.60" r="1.75" fill="url(#bg)"/>
<circle cx="216.20" cy="339.00" r="1.75" fill="url(#bg)"/>
<circle cx="218.98" cy="339.30" r="1.75" fill="url(#bg)"/>
<circle cx="221.76" cy="339.30" r="1.75" fill="url(#bg)"/>
<circle cx="224.54" cy="341.00" r="1.75" fill="url(#bg)"/>
<circle cx="227.32" cy="340.50" r="1.75" fill="url(#bg)"/>
<circle cx="230.10" cy="339.20" r="1.75" fill="url(#bg)"/>
<circle cx="232.88" cy="338.00" r="1.75" fill="url(#bg)"/>
<circle cx="235.66" cy="345.60" r="1.75" fill="url(#bg)"/>
<circle cx="238.44" cy="331.30" r="1.75" fill="url(#bg)"/>
<circle cx="241.22" cy="340.40" r="1.75" fill="url(#bg)"/>
<circle cx="244.00" cy="342.00" r="1.75" fill="url(#bg)"/>
<circle cx="246.78" cy="338.70" r="1.75" fill="url(#bg)"/>
<circle cx="252.34" cy="342.70" r="1.75" fill="url(#bg)"/>
<circle cx="255.12" cy="340.90" r="1.75" fill="url(#bg)"/>
<circle cx="257.90" cy="344.40" r="1.75" fill="url(#bg)"/>
<circle cx="260.68" cy="341.50" r="1.75" fill="url(#bg)"/>
<circle cx="266.24" cy="343.35" r="1.75" fill="url(#bg)"/>
<circle cx="271.80" cy="344.60" r="1.75" fill="url(#bg)"/>
<g stroke="#70aaf4" stroke-width="1" opacity="0.3"><line x1="77.20" y1="275.40" x2="77.20" y2="300.90"/><line x1="79.98" y1="279.50" x2="79.98" y2="304.80"/><line x1="82.76" y1="295.00" x2="82.76" y2="306.70"/><line x1="85.54" y1="294.10" x2="85.54" y2="327.60"/><line x1="88.32" y1="293.20" x2="88.32" y2="319.80"/><line x1="91.10" y1="313.20" x2="91.10" y2="332.80"/><line x1="93.88" y1="302.20" x2="93.88" y2="330.80"/><line x1="96.66" y1="310.60" x2="96.66" y2="323.00"/><line x1="99.44" y1="293.20" x2="99.44" y2="325.00"/><line x1="102.22" y1="291.80" x2="102.22" y2="326.90"/><line x1="105.00" y1="297.90" x2="105.00" y2="334.10"/><line x1="107.78" y1="290.00" x2="107.78" y2="326.30"/><line x1="110.56" y1="298.10" x2="110.56" y2="332.80"/><line x1="113.34" y1="291.80" x2="113.34" y2="328.90"/><line x1="116.12" y1="286.20" x2="116.12" y2="320.40"/><line x1="118.90" y1="300.40" x2="118.90" y2="336.70"/><line x1="121.68" y1="304.00" x2="121.68" y2="344.50"/><line x1="124.46" y1="311.90" x2="124.46" y2="334.10"/><line x1="127.24" y1="318.90" x2="127.24" y2="342.30"/><line x1="130.02" y1="313.80" x2="130.02" y2="339.10"/><line x1="132.80" y1="315.60" x2="132.80" y2="339.00"/><line x1="135.58" y1="327.40" x2="135.58" y2="343.00"/><line x1="138.36" y1="320.80" x2="138.36" y2="339.00"/><line x1="141.14" y1="320.80" x2="141.14" y2="343.00"/><line x1="143.92" y1="320.20" x2="143.92" y2="342.30"/><line x1="146.70" y1="322.10" x2="146.70" y2="343.00"/><line x1="149.48" y1="323.50" x2="149.48" y2="340.40"/><line x1="152.26" y1="324.10" x2="152.26" y2="341.70"/><line x1="155.04" y1="326.10" x2="155.04" y2="345.00"/><line x1="157.82" y1="323.50" x2="157.82" y2="340.40"/><line x1="160.60" y1="332.60" x2="160.60" y2="341.70"/><line x1="163.38" y1="327.40" x2="163.38" y2="343.60"/><line x1="166.16" y1="325.40" x2="166.16" y2="345.00"/><line x1="168.94" y1="330.00" x2="168.94" y2="344.30"/><line x1="171.72" y1="330.60" x2="171.72" y2="343.60"/><line x1="174.50" y1="330.60" x2="174.50" y2="343.60"/><line x1="177.28" y1="328.00" x2="177.28" y2="340.40"/><line x1="180.06" y1="318.20" x2="180.06" y2="346.30"/><line x1="182.84" y1="331.30" x2="182.84" y2="339.10"/><line x1="185.62" y1="328.00" x2="185.62" y2="343.60"/><line x1="188.40" y1="332.60" x2="188.40" y2="345.60"/><line x1="191.18" y1="326.10" x2="191.18" y2="343.00"/><line x1="193.96" y1="326.70" x2="193.96" y2="340.40"/><line x1="196.74" y1="320.20" x2="196.74" y2="348.60"/><line x1="199.52" y1="328.00" x2="199.52" y2="345.00"/><line x1="202.30" y1="331.70" x2="202.30" y2="347.50"/><line x1="205.08" y1="328.20" x2="205.08" y2="345.70"/><line x1="207.86" y1="327.60" x2="207.86" y2="346.90"/><line x1="210.64" y1="331.10" x2="210.64" y2="347.40"/><line x1="213.42" y1="329.90" x2="213.42" y2="345.70"/><line x1="216.20" y1="334.60" x2="216.20" y2="346.90"/><line x1="218.98" y1="332.30" x2="218.98" y2="346.90"/><line x1="221.76" y1="334.00" x2="221.76" y2="347.40"/><line x1="224.54" y1="336.40" x2="224.54" y2="348.60"/><line x1="227.32" y1="336.40" x2="227.32" y2="346.90"/><line x1="230.10" y1="332.30" x2="230.10" y2="351.50"/><line x1="232.88" y1="327.00" x2="232.88" y2="348.60"/><line x1="238.44" y1="316.90" x2="238.44" y2="344.00"/><line x1="241.22" y1="331.10" x2="241.22" y2="349.80"/><line x1="244.00" y1="337.00" x2="244.00" y2="348.00"/><line x1="246.78" y1="331.10" x2="246.78" y2="345.70"/><line x1="255.12" y1="336.90" x2="255.12" y2="345.10"/><line x1="260.68" y1="336.40" x2="260.68" y2="345.70"/><line x1="266.24" y1="338.10" x2="266.24" y2="346.00"/></g>
<circle cx="77.20" cy="240.59" r="2.1" fill="url(#rg)"/>
<circle cx="79.98" cy="244.20" r="2.1" fill="url(#rg)"/>
<circle cx="82.76" cy="247.73" r="2.1" fill="url(#rg)"/>
<circle cx="85.54" cy="251.18" r="2.1" fill="url(#rg)"/>
<circle cx="88.32" cy="254.55" r="2.1" fill="url(#rg)"/>
<circle cx="91.10" cy="257.84" r="2.1" fill="url(#rg)"/>
<circle cx="93.88" cy="261.06" r="2.1" fill="url(#rg)"/>
<circle cx="96.66" cy="264.20" r="2.1" fill="url(#rg)"/>
<circle cx="99.44" cy="267.27" r="2.1" fill="url(#rg)"/>
<circle cx="102.22" cy="270.26" r="2.1" fill="url(#rg)"/>
<circle cx="105.00" cy="273.18" r="2.1" fill="url(#rg)"/>
<circle cx="107.78" cy="276.03" r="2.1" fill="url(#rg)"/>
<circle cx="110.56" cy="278.81" r="2.1" fill="url(#rg)"/>
<circle cx="113.34" cy="281.52" r="2.1" fill="url(#rg)"/>
<circle cx="116.12" cy="284.15" r="2.1" fill="url(#rg)"/>
<circle cx="118.90" cy="286.72" r="2.1" fill="url(#rg)"/>
<circle cx="121.68" cy="289.22" r="2.1" fill="url(#rg)"/>
<circle cx="124.46" cy="291.66" r="2.1" fill="url(#rg)"/>
<circle cx="127.24" cy="294.03" r="2.1" fill="url(#rg)"/>
<circle cx="130.02" cy="296.33" r="2.1" fill="url(#rg)"/>
<circle cx="132.80" cy="298.57" r="2.1" fill="url(#rg)"/>
<circle cx="135.58" cy="300.74" r="2.1" fill="url(#rg)"/>
<circle cx="138.36" cy="302.86" r="2.1" fill="url(#rg)"/>
<circle cx="141.14" cy="304.91" r="2.1" fill="url(#rg)"/>
<circle cx="143.92" cy="306.90" r="2.1" fill="url(#rg)"/>
<circle cx="146.70" cy="308.83" r="2.1" fill="url(#rg)"/>
<circle cx="149.48" cy="310.70" r="2.1" fill="url(#rg)"/>
<circle cx="152.26" cy="312.51" r="2.1" fill="url(#rg)"/>
<circle cx="155.04" cy="314.27" r="2.1" fill="url(#rg)"/>
<circle cx="157.82" cy="315.97" r="2.1" fill="url(#rg)"/>
<circle cx="160.60" cy="317.62" r="2.1" fill="url(#rg)"/>
<circle cx="163.38" cy="319.21" r="2.1" fill="url(#rg)"/>
<circle cx="166.16" cy="320.74" r="2.1" fill="url(#rg)"/>
<circle cx="168.94" cy="322.23" r="2.1" fill="url(#rg)"/>
<circle cx="171.72" cy="323.66" r="2.1" fill="url(#rg)"/>
<circle cx="174.50" cy="325.04" r="2.1" fill="url(#rg)"/>
<circle cx="177.28" cy="326.37" r="2.1" fill="url(#rg)"/>
<circle cx="180.06" cy="327.65" r="2.1" fill="url(#rg)"/>
<circle cx="182.84" cy="328.88" r="2.1" fill="url(#rg)"/>
<circle cx="185.62" cy="330.07" r="2.1" fill="url(#rg)"/>
<circle cx="188.40" cy="331.20" r="2.1" fill="url(#rg)"/>
<circle cx="191.18" cy="332.30" r="2.1" fill="url(#rg)"/>
<circle cx="193.96" cy="333.34" r="2.1" fill="url(#rg)"/>
<circle cx="196.74" cy="334.35" r="2.1" fill="url(#rg)"/>
<circle cx="199.52" cy="335.31" r="2.1" fill="url(#rg)"/>
<circle cx="202.30" cy="336.23" r="2.1" fill="url(#rg)"/>
<circle cx="205.08" cy="337.10" r="2.1" fill="url(#rg)"/>
<circle cx="207.86" cy="337.94" r="2.1" fill="url(#rg)"/>
<circle cx="210.64" cy="338.73" r="2.1" fill="url(#rg)"/>
<circle cx="213.42" cy="339.49" r="2.1" fill="url(#rg)"/>
<circle cx="216.20" cy="340.21" r="2.1" fill="url(#rg)"/>
<circle cx="218.98" cy="340.89" r="2.1" fill="url(#rg)"/>
<circle cx="221.76" cy="341.54" r="2.1" fill="url(#rg)"/>
<circle cx="224.54" cy="342.15" r="2.1" fill="url(#rg)"/>
<circle cx="227.32" cy="342.72" r="2.1" fill="url(#rg)"/>
<circle cx="230.10" cy="343.27" r="2.1" fill="url(#rg)"/>
<circle cx="232.88" cy="343.78" r="2.1" fill="url(#rg)"/>
<circle cx="235.66" cy="344.25" r="2.1" fill="url(#rg)"/>
<circle cx="238.44" cy="344.70" r="2.1" fill="url(#rg)"/>
<circle cx="241.22" cy="345.12" r="2.1" fill="url(#rg)"/>
<circle cx="244.00" cy="345.51" r="2.1" fill="url(#rg)"/>
<circle cx="246.78" cy="345.86" r="2.1" fill="url(#rg)"/>
<circle cx="249.56" cy="346.20" r="2.1" fill="url(#rg)"/>
<circle cx="252.34" cy="346.50" r="2.1" fill="url(#rg)"/>
<circle cx="255.12" cy="346.78" r="2.1" fill="url(#rg)"/>
<circle cx="257.90" cy="347.04" r="2.1" fill="url(#rg)"/>
<circle cx="260.68" cy="347.27" r="2.1" fill="url(#rg)"/>
<circle cx="263.46" cy="347.48" r="2.1" fill="url(#rg)"/>
<circle cx="266.24" cy="347.66" r="2.1" fill="url(#rg)"/>
<circle cx="269.02" cy="347.83" r="2.1" fill="url(#rg)"/>
<circle cx="271.80" cy="347.97" r="2.1" fill="url(#rg)"/>
<path d="M51.2,206.6H297.9V352.4H51.2Z" fill="none" stroke="#8e8e8e" stroke-width="1.1"/>
<clipPath id="cc"><rect x="51" y="206" width="248.4" height="147"/></clipPath><g clip-path="url(#cc)"><circle cx="300.2" cy="335.3" r="1.9" fill="#0e2f80"/><circle cx="300.2" cy="348.3" r="2.1" fill="#9a000f"/></g>
<text x="54.50" y="346.60" font-size="11" fill="#3a3a3a" stroke="#3a3a3a" stroke-width="0.3">(c)</text>
<text x="170.20" y="223.40" font-size="12" fill="#222" stroke="#222" stroke-width="0.4" text-anchor="middle" textLength="54.9" lengthAdjust="spacingAndGlyphs">age 50 - 64</text>
<text x="174.50" y="384.30" font-size="13" fill="#222" stroke="#222" stroke-width="0.4" text-anchor="middle" textLength="117.5" lengthAdjust="spacingAndGlyphs">Breast thickness in mm</text>
<text transform="translate(10.20,279.20) rotate(-90)" font-size="13.5" fill="#2234a2" stroke="#2234a2" stroke-width="0.55" text-anchor="middle" textLength="108" lengthAdjust="spacingAndGlyphs">Average Glandularity</text>
<text transform="translate(22.60,278.20) rotate(-90)" font-size="13.5" fill="#2234a2" stroke="#2234a2" stroke-width="0.55" text-anchor="middle" textLength="91.3" lengthAdjust="spacingAndGlyphs">Percent (Volpara)</text>
<text transform="translate(327.30,278.10) rotate(90)" font-size="12.5" fill="#a01a24" stroke="#a01a24" stroke-width="0.55" text-anchor="middle" textLength="97" lengthAdjust="spacingAndGlyphs">Dance Glandularity</text>
<line x1="412.00" y1="347.60" x2="412.00" y2="351.60" stroke="#c8c8c8" stroke-width="1"/>
<text x="412.00" y="364.60" font-size="12" fill="#222" stroke="#222" stroke-width="0.55" text-anchor="middle" textLength="12.40" lengthAdjust="spacingAndGlyphs">20</text>
<line x1="466.62" y1="347.60" x2="466.62" y2="351.60" stroke="#c8c8c8" stroke-width="1"/>
<text x="466.62" y="364.60" font-size="12" fill="#222" stroke="#222" stroke-width="0.55" text-anchor="middle" textLength="12.40" lengthAdjust="spacingAndGlyphs">40</text>
<line x1="521.24" y1="347.60" x2="521.24" y2="351.60" stroke="#c8c8c8" stroke-width="1"/>
<text x="521.24" y="364.60" font-size="12" fill="#222" stroke="#222" stroke-width="0.55" text-anchor="middle" textLength="12.40" lengthAdjust="spacingAndGlyphs">60</text>
<line x1="575.86" y1="347.60" x2="575.86" y2="351.60" stroke="#c8c8c8" stroke-width="1"/>
<text x="575.86" y="364.60" font-size="12" fill="#222" stroke="#222" stroke-width="0.55" text-anchor="middle" textLength="12.40" lengthAdjust="spacingAndGlyphs">80</text>
<line x1="630.48" y1="347.60" x2="630.48" y2="351.60" stroke="#c8c8c8" stroke-width="1"/>
<text x="630.48" y="364.60" font-size="12" fill="#222" stroke="#222" stroke-width="0.55" text-anchor="middle" textLength="18.60" lengthAdjust="spacingAndGlyphs">100</text>
<text x="398.45" y="357.10" font-size="12" fill="#1f2d78" stroke="#1f2d78" stroke-width="0.55" text-anchor="end" textLength="6.20" lengthAdjust="spacingAndGlyphs">0</text>
<text x="648.90" y="357.10" font-size="12" fill="#a01a24" stroke="#a01a24" stroke-width="0.55" textLength="6.20" lengthAdjust="spacingAndGlyphs">0</text>
<line x1="400.25" y1="325.30" x2="404.25" y2="325.30" stroke="#8cbcf0" stroke-width="1.2"/>
<text x="398.45" y="330.80" font-size="12" fill="#1f2d78" stroke="#1f2d78" stroke-width="0.55" text-anchor="end" textLength="12.40" lengthAdjust="spacingAndGlyphs">20</text>
<line x1="642.40" y1="325.30" x2="646.90" y2="325.30" stroke="#f06a8a" stroke-width="1.2"/>
<text x="648.90" y="330.80" font-size="12" fill="#a01a24" stroke="#a01a24" stroke-width="0.55" textLength="12.40" lengthAdjust="spacingAndGlyphs">20</text>
<line x1="400.25" y1="299.00" x2="404.25" y2="299.00" stroke="#8cbcf0" stroke-width="1.2"/>
<text x="398.45" y="304.50" font-size="12" fill="#1f2d78" stroke="#1f2d78" stroke-width="0.55" text-anchor="end" textLength="12.40" lengthAdjust="spacingAndGlyphs">40</text>
<line x1="642.40" y1="299.00" x2="646.90" y2="299.00" stroke="#f06a8a" stroke-width="1.2"/>
<text x="648.90" y="304.50" font-size="12" fill="#a01a24" stroke="#a01a24" stroke-width="0.55" textLength="12.40" lengthAdjust="spacingAndGlyphs">40</text>
<line x1="400.25" y1="272.70" x2="404.25" y2="272.70" stroke="#8cbcf0" stroke-width="1.2"/>
<text x="398.45" y="278.20" font-size="12" fill="#1f2d78" stroke="#1f2d78" stroke-width="0.55" text-anchor="end" textLength="12.40" lengthAdjust="spacingAndGlyphs">60</text>
<line x1="642.40" y1="272.70" x2="646.90" y2="272.70" stroke="#f06a8a" stroke-width="1.2"/>
<text x="648.90" y="278.20" font-size="12" fill="#a01a24" stroke="#a01a24" stroke-width="0.55" textLength="12.40" lengthAdjust="spacingAndGlyphs">60</text>
<line x1="400.25" y1="246.40" x2="404.25" y2="246.40" stroke="#8cbcf0" stroke-width="1.2"/>
<text x="398.45" y="251.90" font-size="12" fill="#1f2d78" stroke="#1f2d78" stroke-width="0.55" text-anchor="end" textLength="12.40" lengthAdjust="spacingAndGlyphs">80</text>
<line x1="642.40" y1="246.40" x2="646.90" y2="246.40" stroke="#f06a8a" stroke-width="1.2"/>
<text x="648.90" y="251.90" font-size="12" fill="#a01a24" stroke="#a01a24" stroke-width="0.55" textLength="12.40" lengthAdjust="spacingAndGlyphs">80</text>
<line x1="400.25" y1="220.10" x2="404.25" y2="220.10" stroke="#8cbcf0" stroke-width="1.2"/>
<text x="398.45" y="225.60" font-size="12" fill="#1f2d78" stroke="#1f2d78" stroke-width="0.55" text-anchor="end" textLength="18.60" lengthAdjust="spacingAndGlyphs">100</text>
<line x1="642.40" y1="220.10" x2="646.90" y2="220.10" stroke="#f06a8a" stroke-width="1.2"/>
<text x="648.90" y="225.60" font-size="12" fill="#a01a24" stroke="#a01a24" stroke-width="0.55" textLength="18.60" lengthAdjust="spacingAndGlyphs">100</text>
<g stroke="#70aaf4" stroke-width="1"><line x1="428.39" y1="228.10" x2="428.39" y2="315.20"/><line x1="431.12" y1="296.20" x2="431.12" y2="310.60"/><line x1="442.04" y1="312.00" x2="442.04" y2="328.90"/><line x1="444.77" y1="296.30" x2="444.77" y2="324.30"/><line x1="447.50" y1="293.90" x2="447.50" y2="336.70"/><line x1="450.23" y1="319.10" x2="450.23" y2="340.60"/><line x1="452.96" y1="322.40" x2="452.96" y2="334.10"/><line x1="455.70" y1="327.60" x2="455.70" y2="338.00"/><line x1="458.43" y1="310.00" x2="458.43" y2="346.00"/><line x1="461.16" y1="324.30" x2="461.16" y2="331.50"/><line x1="463.89" y1="311.30" x2="463.89" y2="327.60"/><line x1="466.62" y1="320.40" x2="466.62" y2="340.60"/><line x1="469.35" y1="328.00" x2="469.35" y2="342.80"/><line x1="472.08" y1="321.00" x2="472.08" y2="340.00"/><line x1="474.81" y1="319.30" x2="474.81" y2="341.70"/><line x1="477.54" y1="330.80" x2="477.54" y2="340.60"/><line x1="480.27" y1="322.00" x2="480.27" y2="342.80"/><line x1="483.01" y1="324.80" x2="483.01" y2="343.30"/><line x1="485.74" y1="327.00" x2="485.74" y2="341.70"/><line x1="488.47" y1="328.60" x2="488.47" y2="343.90"/><line x1="491.20" y1="329.70" x2="491.20" y2="343.90"/><line x1="493.93" y1="327.00" x2="493.93" y2="343.30"/><line x1="496.66" y1="331.30" x2="496.66" y2="342.80"/><line x1="499.39" y1="331.90" x2="499.39" y2="345.00"/><line x1="502.12" y1="326.40" x2="502.12" y2="342.80"/><line x1="504.85" y1="334.60" x2="504.85" y2="345.50"/><line x1="507.58" y1="326.40" x2="507.58" y2="342.80"/><line x1="510.32" y1="331.30" x2="510.32" y2="346.00"/><line x1="515.78" y1="335.70" x2="515.78" y2="343.90"/><line x1="518.51" y1="336.20" x2="518.51" y2="345.00"/><line x1="521.24" y1="326.40" x2="521.24" y2="349.30"/><line x1="523.97" y1="334.00" x2="523.97" y2="346.00"/><line x1="526.70" y1="328.70" x2="526.70" y2="346.00"/><line x1="532.16" y1="335.20" x2="532.16" y2="345.00"/><line x1="551.28" y1="327.10" x2="551.28" y2="346.00"/><line x1="562.20" y1="328.90" x2="562.20" y2="346.00"/><line x1="567.67" y1="324.10" x2="567.67" y2="350.00"/><line x1="573.13" y1="330.00" x2="573.13" y2="344.00"/><line x1="589.51" y1="322.90" x2="589.51" y2="348.60"/><line x1="592.25" y1="320.00" x2="592.25" y2="347.50"/><line x1="594.98" y1="338.10" x2="594.98" y2="345.10"/><line x1="600.44" y1="321.10" x2="600.44" y2="326.40"/></g>
<circle cx="422.92" cy="333.70" r="1.75" fill="url(#bg)"/>
<circle cx="425.65" cy="305.00" r="1.75" fill="url(#bg)"/>
<circle cx="428.39" cy="271.50" r="1.75" fill="url(#bg)"/>
<circle cx="431.12" cy="303.45" r="1.75" fill="url(#bg)"/>
<circle cx="433.85" cy="314.50" r="1.75" fill="url(#bg)"/>
<circle cx="436.58" cy="306.80" r="1.75" fill="url(#bg)"/>
<circle cx="439.31" cy="316.90" r="1.75" fill="url(#bg)"/>
<circle cx="442.04" cy="320.80" r="1.75" fill="url(#bg)"/>
<circle cx="444.77" cy="310.40" r="1.75" fill="url(#bg)"/>
<circle cx="447.50" cy="315.20" r="1.75" fill="url(#bg)"/>
<circle cx="450.23" cy="330.20" r="1.75" fill="url(#bg)"/>
<circle cx="452.96" cy="328.20" r="1.75" fill="url(#bg)"/>
<circle cx="455.70" cy="332.50" r="1.75" fill="url(#bg)"/>
<circle cx="458.43" cy="327.30" r="1.75" fill="url(#bg)"/>
<circle cx="461.16" cy="327.30" r="1.75" fill="url(#bg)"/>
<circle cx="463.89" cy="320.80" r="1.75" fill="url(#bg)"/>
<circle cx="466.62" cy="330.50" r="1.75" fill="url(#bg)"/>
<circle cx="469.35" cy="335.10" r="1.75" fill="url(#bg)"/>
<circle cx="472.08" cy="330.50" r="1.75" fill="url(#bg)"/>
<circle cx="474.81" cy="330.00" r="1.75" fill="url(#bg)"/>
<circle cx="477.54" cy="335.70" r="1.75" fill="url(#bg)"/>
<circle cx="480.27" cy="332.40" r="1.75" fill="url(#bg)"/>
<circle cx="483.01" cy="334.30" r="1.75" fill="url(#bg)"/>
<circle cx="485.74" cy="334.60" r="1.75" fill="url(#bg)"/>
<circle cx="488.47" cy="336.20" r="1.75" fill="url(#bg)"/>
<circle cx="491.20" cy="337.10" r="1.75" fill="url(#bg)"/>
<circle cx="493.93" cy="335.10" r="1.75" fill="url(#bg)"/>
<circle cx="496.66" cy="336.20" r="1.75" fill="url(#bg)"/>
<circle cx="499.39" cy="338.20" r="1.75" fill="url(#bg)"/>
<circle cx="502.12" cy="336.00" r="1.75" fill="url(#bg)"/>
<circle cx="504.85" cy="339.80" r="1.75" fill="url(#bg)"/>
<circle cx="507.58" cy="335.10" r="1.75" fill="url(#bg)"/>
<circle cx="510.32" cy="338.60" r="1.75" fill="url(#bg)"/>
<circle cx="513.05" cy="336.80" r="1.75" fill="url(#bg)"/>
<circle cx="515.78" cy="339.70" r="1.75" fill="url(#bg)"/>
<circle cx="518.51" cy="339.00" r="1.75" fill="url(#bg)"/>
<circle cx="521.24" cy="336.80" r="1.75" fill="url(#bg)"/>
<circle cx="523.97" cy="339.80" r="1.75" fill="url(#bg)"/>
<circle cx="526.70" cy="337.80" r="1.75" fill="url(#bg)"/>
<circle cx="529.43" cy="341.70" r="1.75" fill="url(#bg)"/>
<circle cx="532.16" cy="340.10" r="1.75" fill="url(#bg)"/>
<circle cx="534.89" cy="339.70" r="1.75" fill="url(#bg)"/>
<circle cx="537.63" cy="342.30" r="1.75" fill="url(#bg)"/>
<circle cx="540.36" cy="341.20" r="1.75" fill="url(#bg)"/>
<circle cx="543.09" cy="338.95" r="1.75" fill="url(#bg)"/>
<circle cx="545.82" cy="341.20" r="1.75" fill="url(#bg)"/>
<circle cx="548.55" cy="341.40" r="1.75" fill="url(#bg)"/>
<circle cx="551.28" cy="337.80" r="1.75" fill="url(#bg)"/>
<circle cx="554.01" cy="342.30" r="1.75" fill="url(#bg)"/>
<circle cx="556.74" cy="342.30" r="1.75" fill="url(#bg)"/>
<circle cx="559.47" cy="342.30" r="1.75" fill="url(#bg)"/>
<circle cx="562.20" cy="337.80" r="1.75" fill="url(#bg)"/>
<circle cx="564.94" cy="340.40" r="1.75" fill="url(#bg)"/>
<circle cx="567.67" cy="337.10" r="1.75" fill="url(#bg)"/>
<circle cx="570.40" cy="345.20" r="1.75" fill="url(#bg)"/>
<circle cx="573.13" cy="337.10" r="1.75" fill="url(#bg)"/>
<circle cx="575.86" cy="340.40" r="1.75" fill="url(#bg)"/>
<circle cx="578.59" cy="345.90" r="1.75" fill="url(#bg)"/>
<circle cx="581.32" cy="347.60" r="1.75" fill="url(#bg)"/>
<circle cx="584.05" cy="346.00" r="1.75" fill="url(#bg)"/>
<circle cx="586.78" cy="346.00" r="1.75" fill="url(#bg)"/>
<circle cx="589.51" cy="336.30" r="1.75" fill="url(#bg)"/>
<circle cx="592.25" cy="334.20" r="1.75" fill="url(#bg)"/>
<circle cx="594.98" cy="342.20" r="1.75" fill="url(#bg)"/>
<circle cx="600.44" cy="323.70" r="1.75" fill="url(#bg)"/>
<circle cx="603.17" cy="345.70" r="1.75" fill="url(#bg)"/>
<circle cx="605.90" cy="346.90" r="1.75" fill="url(#bg)"/>
<circle cx="622.29" cy="346.90" r="1.75" fill="url(#bg)"/>
<circle cx="638.67" cy="338.10" r="1.75" fill="url(#bg)"/>
<g stroke="#70aaf4" stroke-width="1" opacity="0.3"><line x1="428.39" y1="228.10" x2="428.39" y2="315.20"/><line x1="431.12" y1="296.20" x2="431.12" y2="310.60"/><line x1="442.04" y1="312.00" x2="442.04" y2="328.90"/><line x1="444.77" y1="296.30" x2="444.77" y2="324.30"/><line x1="447.50" y1="293.90" x2="447.50" y2="336.70"/><line x1="450.23" y1="319.10" x2="450.23" y2="340.60"/><line x1="452.96" y1="322.40" x2="452.96" y2="334.10"/><line x1="455.70" y1="327.60" x2="455.70" y2="338.00"/><line x1="458.43" y1="310.00" x2="458.43" y2="346.00"/><line x1="461.16" y1="324.30" x2="461.16" y2="331.50"/><line x1="463.89" y1="311.30" x2="463.89" y2="327.60"/><line x1="466.62" y1="320.40" x2="466.62" y2="340.60"/><line x1="469.35" y1="328.00" x2="469.35" y2="342.80"/><line x1="472.08" y1="321.00" x2="472.08" y2="340.00"/><line x1="474.81" y1="319.30" x2="474.81" y2="341.70"/><line x1="477.54" y1="330.80" x2="477.54" y2="340.60"/><line x1="480.27" y1="322.00" x2="480.27" y2="342.80"/><line x1="483.01" y1="324.80" x2="483.01" y2="343.30"/><line x1="485.74" y1="327.00" x2="485.74" y2="341.70"/><line x1="488.47" y1="328.60" x2="488.47" y2="343.90"/><line x1="491.20" y1="329.70" x2="491.20" y2="343.90"/><line x1="493.93" y1="327.00" x2="493.93" y2="343.30"/><line x1="496.66" y1="331.30" x2="496.66" y2="342.80"/><line x1="499.39" y1="331.90" x2="499.39" y2="345.00"/><line x1="502.12" y1="326.40" x2="502.12" y2="342.80"/><line x1="504.85" y1="334.60" x2="504.85" y2="345.50"/><line x1="507.58" y1="326.40" x2="507.58" y2="342.80"/><line x1="510.32" y1="331.30" x2="510.32" y2="346.00"/><line x1="515.78" y1="335.70" x2="515.78" y2="343.90"/><line x1="518.51" y1="336.20" x2="518.51" y2="345.00"/><line x1="521.24" y1="326.40" x2="521.24" y2="349.30"/><line x1="523.97" y1="334.00" x2="523.97" y2="346.00"/><line x1="526.70" y1="328.70" x2="526.70" y2="346.00"/><line x1="532.16" y1="335.20" x2="532.16" y2="345.00"/><line x1="551.28" y1="327.10" x2="551.28" y2="346.00"/><line x1="562.20" y1="328.90" x2="562.20" y2="346.00"/><line x1="567.67" y1="324.10" x2="567.67" y2="350.00"/><line x1="573.13" y1="330.00" x2="573.13" y2="344.00"/><line x1="589.51" y1="322.90" x2="589.51" y2="348.60"/><line x1="592.25" y1="320.00" x2="592.25" y2="347.50"/><line x1="594.98" y1="338.10" x2="594.98" y2="345.10"/><line x1="600.44" y1="321.10" x2="600.44" y2="326.40"/></g>
<circle cx="422.92" cy="236.02" r="2.1" fill="url(#rg)"/>
<circle cx="425.65" cy="239.72" r="2.1" fill="url(#rg)"/>
<circle cx="428.39" cy="243.33" r="2.1" fill="url(#rg)"/>
<circle cx="431.12" cy="246.87" r="2.1" fill="url(#rg)"/>
<circle cx="433.85" cy="250.32" r="2.1" fill="url(#rg)"/>
<circle cx="436.58" cy="253.70" r="2.1" fill="url(#rg)"/>
<circle cx="439.31" cy="257.00" r="2.1" fill="url(#rg)"/>
<circle cx="442.04" cy="260.22" r="2.1" fill="url(#rg)"/>
<circle cx="444.77" cy="263.37" r="2.1" fill="url(#rg)"/>
<circle cx="447.50" cy="266.44" r="2.1" fill="url(#rg)"/>
<circle cx="450.23" cy="269.44" r="2.1" fill="url(#rg)"/>
<circle cx="452.96" cy="272.36" r="2.1" fill="url(#rg)"/>
<circle cx="455.70" cy="275.22" r="2.1" fill="url(#rg)"/>
<circle cx="458.43" cy="278.00" r="2.1" fill="url(#rg)"/>
<circle cx="461.16" cy="280.71" r="2.1" fill="url(#rg)"/>
<circle cx="463.89" cy="283.35" r="2.1" fill="url(#rg)"/>
<circle cx="466.62" cy="285.92" r="2.1" fill="url(#rg)"/>
<circle cx="469.35" cy="288.43" r="2.1" fill="url(#rg)"/>
<circle cx="472.08" cy="290.86" r="2.1" fill="url(#rg)"/>
<circle cx="474.81" cy="293.24" r="2.1" fill="url(#rg)"/>
<circle cx="477.54" cy="295.54" r="2.1" fill="url(#rg)"/>
<circle cx="480.27" cy="297.79" r="2.1" fill="url(#rg)"/>
<circle cx="483.01" cy="299.96" r="2.1" fill="url(#rg)"/>
<circle cx="485.74" cy="302.08" r="2.1" fill="url(#rg)"/>
<circle cx="488.47" cy="304.14" r="2.1" fill="url(#rg)"/>
<circle cx="491.20" cy="306.13" r="2.1" fill="url(#rg)"/>
<circle cx="493.93" cy="308.06" r="2.1" fill="url(#rg)"/>
<circle cx="496.66" cy="309.94" r="2.1" fill="url(#rg)"/>
<circle cx="499.39" cy="311.75" r="2.1" fill="url(#rg)"/>
<circle cx="502.12" cy="313.51" r="2.1" fill="url(#rg)"/>
<circle cx="504.85" cy="315.22" r="2.1" fill="url(#rg)"/>
<circle cx="507.58" cy="316.86" r="2.1" fill="url(#rg)"/>
<circle cx="510.32" cy="318.46" r="2.1" fill="url(#rg)"/>
<circle cx="513.05" cy="319.99" r="2.1" fill="url(#rg)"/>
<circle cx="515.78" cy="321.48" r="2.1" fill="url(#rg)"/>
<circle cx="518.51" cy="322.91" r="2.1" fill="url(#rg)"/>
<circle cx="521.24" cy="324.30" r="2.1" fill="url(#rg)"/>
<circle cx="523.97" cy="325.63" r="2.1" fill="url(#rg)"/>
<circle cx="526.70" cy="326.91" r="2.1" fill="url(#rg)"/>
<circle cx="529.43" cy="328.15" r="2.1" fill="url(#rg)"/>
<circle cx="532.16" cy="329.33" r="2.1" fill="url(#rg)"/>
<circle cx="534.89" cy="330.47" r="2.1" fill="url(#rg)"/>
<circle cx="537.63" cy="331.57" r="2.1" fill="url(#rg)"/>
<circle cx="540.36" cy="332.62" r="2.1" fill="url(#rg)"/>
<circle cx="543.09" cy="333.62" r="2.1" fill="url(#rg)"/>
<circle cx="545.82" cy="334.58" r="2.1" fill="url(#rg)"/>
<circle cx="548.55" cy="335.50" r="2.1" fill="url(#rg)"/>
<circle cx="551.28" cy="336.38" r="2.1" fill="url(#rg)"/>
<circle cx="554.01" cy="337.22" r="2.1" fill="url(#rg)"/>
<circle cx="556.74" cy="338.01" r="2.1" fill="url(#rg)"/>
<circle cx="559.47" cy="338.77" r="2.1" fill="url(#rg)"/>
<circle cx="562.20" cy="339.49" r="2.1" fill="url(#rg)"/>
<circle cx="564.94" cy="340.17" r="2.1" fill="url(#rg)"/>
<circle cx="567.67" cy="340.82" r="2.1" fill="url(#rg)"/>
<circle cx="570.40" cy="341.43" r="2.1" fill="url(#rg)"/>
<circle cx="573.13" cy="342.01" r="2.1" fill="url(#rg)"/>
<circle cx="575.86" cy="342.55" r="2.1" fill="url(#rg)"/>
<circle cx="578.59" cy="343.06" r="2.1" fill="url(#rg)"/>
<circle cx="581.32" cy="343.54" r="2.1" fill="url(#rg)"/>
<circle cx="584.05" cy="343.99" r="2.1" fill="url(#rg)"/>
<circle cx="586.78" cy="344.41" r="2.1" fill="url(#rg)"/>
<circle cx="589.51" cy="344.80" r="2.1" fill="url(#rg)"/>
<circle cx="592.25" cy="345.15" r="2.1" fill="url(#rg)"/>
<circle cx="594.98" cy="345.49" r="2.1" fill="url(#rg)"/>
<circle cx="600.44" cy="346.07" r="2.1" fill="url(#rg)"/>
<circle cx="603.17" cy="346.33" r="2.1" fill="url(#rg)"/>
<circle cx="605.90" cy="346.56" r="2.1" fill="url(#rg)"/>
<circle cx="622.29" cy="347.49" r="2.1" fill="url(#rg)"/>
<circle cx="638.67" cy="347.78" r="2.1" fill="url(#rg)"/>
<path d="M400.25,206.2H642.4V351.6H400.25Z" fill="none" stroke="#8e8e8e" stroke-width="1.1"/>
<text x="403.55" y="346.80" font-size="11" fill="#3a3a3a" stroke="#3a3a3a" stroke-width="0.3">(d)</text>
<text x="517.90" y="222.00" font-size="12" fill="#222" stroke="#222" stroke-width="0.4" text-anchor="middle" textLength="42" lengthAdjust="spacingAndGlyphs">age &gt; 64</text>
<text x="521.20" y="383.60" font-size="13" fill="#222" stroke="#222" stroke-width="0.4" text-anchor="middle" textLength="117.5" lengthAdjust="spacingAndGlyphs">Breast thickness in mm</text>
<text transform="translate(359.20,279.20) rotate(-90)" font-size="13.5" fill="#2234a2" stroke="#2234a2" stroke-width="0.55" text-anchor="middle" textLength="108" lengthAdjust="spacingAndGlyphs">Average Glandularity</text>
<text transform="translate(371.60,278.20) rotate(-90)" font-size="13.5" fill="#2234a2" stroke="#2234a2" stroke-width="0.55" text-anchor="middle" textLength="91.3" lengthAdjust="spacingAndGlyphs">Percent (Volpara)</text>
<text transform="translate(676.30,278.10) rotate(90)" font-size="12.5" fill="#a01a24" stroke="#a01a24" stroke-width="0.55" text-anchor="middle" textLength="97" lengthAdjust="spacingAndGlyphs">Dance Glandularity</text>
</svg></body></html>
